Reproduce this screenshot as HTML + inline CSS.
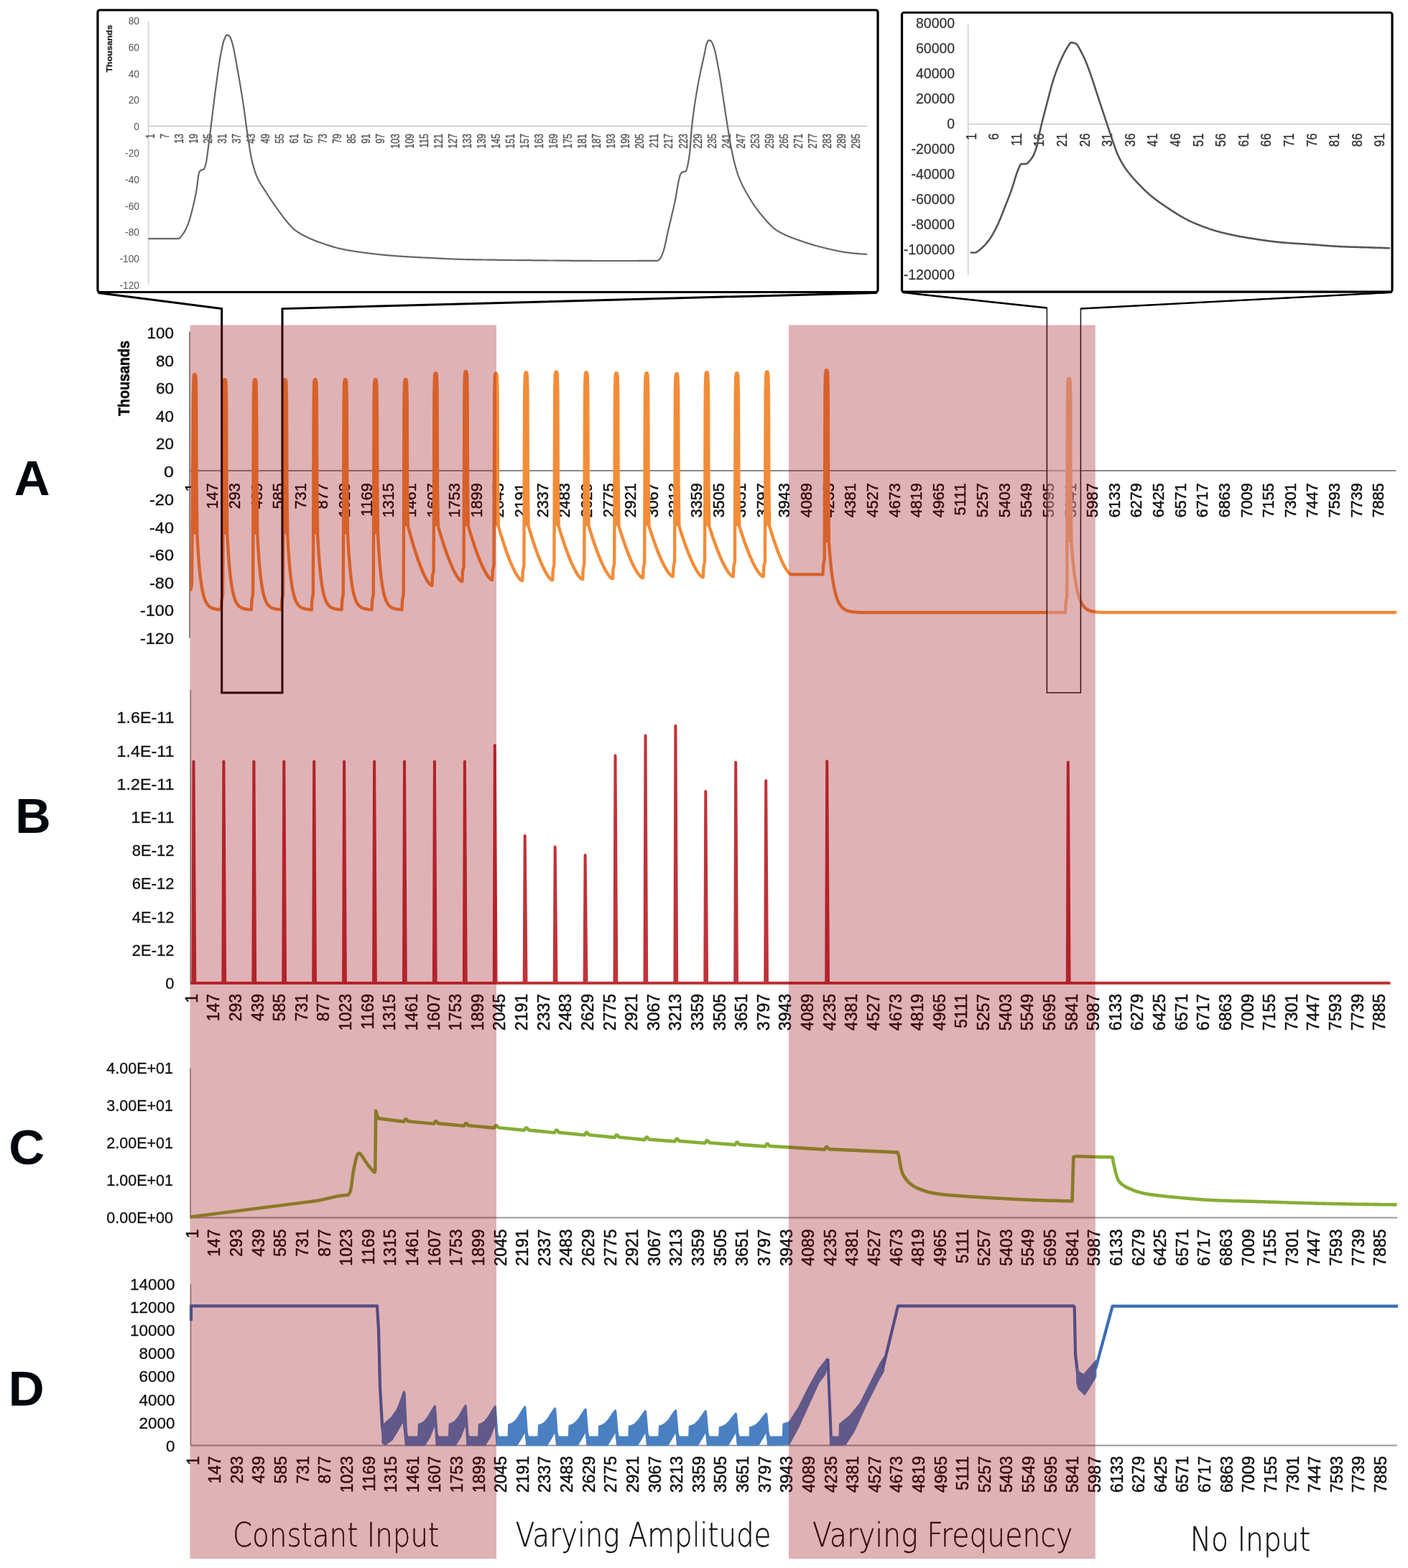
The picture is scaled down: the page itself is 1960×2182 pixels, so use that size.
<!DOCTYPE html><html><head><meta charset="utf-8"><title>Figure</title>
<style>html,body{margin:0;padding:0;background:#fff;}svg{display:block;font-family:'Liberation Sans', sans-serif;}</style></head><body>
<svg width="1960" height="2182" viewBox="0 0 1960 2182">
<rect width="1960" height="2182" fill="#fff"/>
<g id="inset-left">
<line x1="206.6" y1="30" x2="206.6" y2="396" stroke="#d6d6d6" stroke-width="1.8"/>
<line x1="206.6" y1="175.5" x2="1207" y2="175.5" stroke="#d0d0d0" stroke-width="1.8"/>
<g font-size="13.8" fill="#555" ><text x="194" y="29.1" text-anchor="end" dy="0.36em">80</text><text x="194" y="65.9" text-anchor="end" dy="0.36em">60</text><text x="194" y="102.7" text-anchor="end" dy="0.36em">40</text><text x="194" y="139.5" text-anchor="end" dy="0.36em">20</text><text x="194" y="176.3" text-anchor="end" dy="0.36em">0</text><text x="194" y="213.1" text-anchor="end" dy="0.36em">-20</text><text x="194" y="249.9" text-anchor="end" dy="0.36em">-40</text><text x="194" y="286.7" text-anchor="end" dy="0.36em">-60</text><text x="194" y="323.5" text-anchor="end" dy="0.36em">-80</text><text x="194" y="360.3" text-anchor="end" dy="0.36em">-100</text><text x="194" y="397.1" text-anchor="end" dy="0.36em">-120</text></g>
<text transform="translate(151.5,67.7) rotate(-90)" text-anchor="middle" dy="0.36em" font-size="11.7" font-weight="bold" fill="#222" stroke="#222" stroke-width="0.3" textLength="66" lengthAdjust="spacingAndGlyphs">Thousands</text>
<g font-size="12.4" fill="#555" stroke="#555" stroke-width="0.3"><text transform="translate(209,186) rotate(-90) scale(1,1.260)" text-anchor="end" dy="0.36em">1</text><text transform="translate(229.1,186) rotate(-90) scale(1,1.260)" text-anchor="end" dy="0.36em">7</text><text transform="translate(249.1,186) rotate(-90) scale(1,1.260)" text-anchor="end" dy="0.36em">13</text><text transform="translate(269.1,186) rotate(-90) scale(1,1.260)" text-anchor="end" dy="0.36em">19</text><text transform="translate(289.2,186) rotate(-90) scale(1,1.260)" text-anchor="end" dy="0.36em">25</text><text transform="translate(309.2,186) rotate(-90) scale(1,1.260)" text-anchor="end" dy="0.36em">31</text><text transform="translate(329.3,186) rotate(-90) scale(1,1.260)" text-anchor="end" dy="0.36em">37</text><text transform="translate(349.4,186) rotate(-90) scale(1,1.260)" text-anchor="end" dy="0.36em">43</text><text transform="translate(369.4,186) rotate(-90) scale(1,1.260)" text-anchor="end" dy="0.36em">49</text><text transform="translate(389.5,186) rotate(-90) scale(1,1.260)" text-anchor="end" dy="0.36em">55</text><text transform="translate(409.5,186) rotate(-90) scale(1,1.260)" text-anchor="end" dy="0.36em">61</text><text transform="translate(429.6,186) rotate(-90) scale(1,1.260)" text-anchor="end" dy="0.36em">67</text><text transform="translate(449.6,186) rotate(-90) scale(1,1.260)" text-anchor="end" dy="0.36em">73</text><text transform="translate(469.7,186) rotate(-90) scale(1,1.260)" text-anchor="end" dy="0.36em">79</text><text transform="translate(489.7,186) rotate(-90) scale(1,1.260)" text-anchor="end" dy="0.36em">85</text><text transform="translate(509.8,186) rotate(-90) scale(1,1.260)" text-anchor="end" dy="0.36em">91</text><text transform="translate(529.8,186) rotate(-90) scale(1,1.260)" text-anchor="end" dy="0.36em">97</text><text transform="translate(549.9,186) rotate(-90) scale(1,1.260)" text-anchor="end" dy="0.36em">103</text><text transform="translate(569.9,186) rotate(-90) scale(1,1.260)" text-anchor="end" dy="0.36em">109</text><text transform="translate(590,186) rotate(-90) scale(1,1.260)" text-anchor="end" dy="0.36em">115</text><text transform="translate(610,186) rotate(-90) scale(1,1.260)" text-anchor="end" dy="0.36em">121</text><text transform="translate(630,186) rotate(-90) scale(1,1.260)" text-anchor="end" dy="0.36em">127</text><text transform="translate(650.1,186) rotate(-90) scale(1,1.260)" text-anchor="end" dy="0.36em">133</text><text transform="translate(670.2,186) rotate(-90) scale(1,1.260)" text-anchor="end" dy="0.36em">139</text><text transform="translate(690.2,186) rotate(-90) scale(1,1.260)" text-anchor="end" dy="0.36em">145</text><text transform="translate(710.2,186) rotate(-90) scale(1,1.260)" text-anchor="end" dy="0.36em">151</text><text transform="translate(730.3,186) rotate(-90) scale(1,1.260)" text-anchor="end" dy="0.36em">157</text><text transform="translate(750.4,186) rotate(-90) scale(1,1.260)" text-anchor="end" dy="0.36em">163</text><text transform="translate(770.4,186) rotate(-90) scale(1,1.260)" text-anchor="end" dy="0.36em">169</text><text transform="translate(790.5,186) rotate(-90) scale(1,1.260)" text-anchor="end" dy="0.36em">175</text><text transform="translate(810.5,186) rotate(-90) scale(1,1.260)" text-anchor="end" dy="0.36em">181</text><text transform="translate(830.6,186) rotate(-90) scale(1,1.260)" text-anchor="end" dy="0.36em">187</text><text transform="translate(850.6,186) rotate(-90) scale(1,1.260)" text-anchor="end" dy="0.36em">193</text><text transform="translate(870.6,186) rotate(-90) scale(1,1.260)" text-anchor="end" dy="0.36em">199</text><text transform="translate(890.7,186) rotate(-90) scale(1,1.260)" text-anchor="end" dy="0.36em">205</text><text transform="translate(910.8,186) rotate(-90) scale(1,1.260)" text-anchor="end" dy="0.36em">211</text><text transform="translate(930.8,186) rotate(-90) scale(1,1.260)" text-anchor="end" dy="0.36em">217</text><text transform="translate(950.9,186) rotate(-90) scale(1,1.260)" text-anchor="end" dy="0.36em">223</text><text transform="translate(970.9,186) rotate(-90) scale(1,1.260)" text-anchor="end" dy="0.36em">229</text><text transform="translate(991,186) rotate(-90) scale(1,1.260)" text-anchor="end" dy="0.36em">235</text><text transform="translate(1011,186) rotate(-90) scale(1,1.260)" text-anchor="end" dy="0.36em">241</text><text transform="translate(1031.1,186) rotate(-90) scale(1,1.260)" text-anchor="end" dy="0.36em">247</text><text transform="translate(1051.1,186) rotate(-90) scale(1,1.260)" text-anchor="end" dy="0.36em">253</text><text transform="translate(1071.2,186) rotate(-90) scale(1,1.260)" text-anchor="end" dy="0.36em">259</text><text transform="translate(1091.2,186) rotate(-90) scale(1,1.260)" text-anchor="end" dy="0.36em">265</text><text transform="translate(1111.2,186) rotate(-90) scale(1,1.260)" text-anchor="end" dy="0.36em">271</text><text transform="translate(1131.3,186) rotate(-90) scale(1,1.260)" text-anchor="end" dy="0.36em">277</text><text transform="translate(1151.3,186) rotate(-90) scale(1,1.260)" text-anchor="end" dy="0.36em">283</text><text transform="translate(1171.4,186) rotate(-90) scale(1,1.260)" text-anchor="end" dy="0.36em">289</text><text transform="translate(1191.5,186) rotate(-90) scale(1,1.260)" text-anchor="end" dy="0.36em">295</text></g>
<polyline points="206.6,332.1 207.4,332.1 208.2,332.1 209,332.1 209.8,332.1 210.6,332.1 211.4,332.1 212.2,332.1 213,332.1 213.8,332.1 214.6,332.1 215.4,332.1 216.2,332.1 217,332.1 217.8,332.1 218.6,332.1 219.4,332.1 220.2,332.1 221,332.1 221.8,332.1 222.6,332.1 223.4,332.1 224.2,332.1 225,332.1 225.8,332.1 226.6,332.1 227.4,332.1 228.2,332.1 229,332.1 229.8,332.1 230.6,332.1 231.4,332.1 232.2,332.1 233,332.1 233.8,332.1 234.6,332.1 235.4,332.1 236.2,332.1 237,332.1 237.8,332.1 238.6,332.1 239.4,332.1 240.2,332.1 241,332.1 241.8,332.1 242.6,332.1 243.4,332.1 244.2,332.1 245,332.1 245.8,332.1 246.6,332.1 247.4,332.1 248.2,332.1 249,331.8 249.8,331.4 250.6,330.7 251.4,329.9 252.2,328.9 253,327.9 253.8,326.8 254.6,325.7 255.4,324.6 256.2,323.4 257,322.1 257.8,320.7 258.6,319.1 259.4,317.4 260.2,315.6 261,313.7 261.8,311.8 262.6,309.6 263.4,307.2 264.2,304.5 265,301.7 265.8,298.8 266.6,295.8 267.4,292.7 268.2,289.5 269,286.2 269.8,282.8 270.6,279.2 271.4,275.5 272.2,271.6 273,267.5 273.8,263 274.6,257.1 275.4,250.6 276.2,244.6 277,240.3 277.8,238.6 278.6,237.8 279.4,237.2 280.2,236.7 281,236.4 281.8,236.3 282.6,236.1 283.4,235.8 284.2,235 285,233.1 285.8,230.5 286.6,227.5 287.4,223.7 288.2,218.6 289,212.6 289.8,206.3 290.6,200.1 291.4,194.1 292.2,187.7 293,181.2 293.8,174.6 294.6,168.1 295.4,161.7 296.2,155.2 297,148.8 297.8,142.3 298.6,135.9 299.4,129.6 300.2,123.5 301,117.6 301.8,111.8 302.6,106.1 303.4,100.4 304.2,94.8 305,89.5 305.8,84.3 306.6,79.5 307.4,75 308.2,71 309,67.1 309.8,63.4 310.6,60 311.4,57.1 312.2,54.7 313,52.9 313.8,51.3 314.6,49.8 315.4,48.9 316.2,48.6 317,48.8 317.8,49.2 318.6,49.7 319.4,50.4 320.2,51.4 321,53 321.8,55.1 322.6,57.4 323.4,60 324.2,63 325,66.5 325.8,70.3 326.6,74.4 327.4,78.7 328.2,83.1 329,87.7 329.8,92.2 330.6,96.7 331.4,101.1 332.2,105.5 333,110 333.8,114.7 334.6,119.4 335.4,124.2 336.2,129 337,134 337.8,139.1 338.6,144.3 339.4,149.7 340.2,155.3 341,161.3 341.8,167.5 342.6,173.6 343.4,179.5 344.2,185 345,190.3 345.8,195.5 346.6,200.7 347.4,205.7 348.2,210.5 349,215 349.8,219.2 350.6,222.9 351.4,226.2 352.2,229.4 353,232.3 353.8,235.1 354.6,237.7 355.4,240.1 356.2,242.4 357,244.4 357.8,246.3 358.6,248 359.4,249.7 360.2,251.2 361,252.7 361.8,254.1 362.6,255.5 363.4,256.8 364.2,258 365,259.2 365.8,260.5 366.6,261.7 367.4,262.9 368.2,264.1 369,265.4 369.8,266.7 370.6,268 371.4,269.2 372.2,270.5 373,271.7 373.8,273 374.6,274.2 375.4,275.4 376.2,276.6 377,277.8 377.8,279 378.6,280.2 379.4,281.4 380.2,282.6 381,283.7 381.8,284.9 382.6,286 383.4,287.2 384.2,288.3 385,289.4 385.8,290.5 386.6,291.6 387.4,292.7 388.2,293.8 389,294.9 389.8,296 390.6,297.1 391.4,298.2 392.2,299.3 393,300.4 393.8,301.4 394.6,302.5 395.4,303.5 396.2,304.5 397,305.5 397.8,306.5 398.6,307.5 399.4,308.5 400.2,309.4 401,310.4 401.8,311.3 402.6,312.2 403.4,313.1 404.2,314 405,314.8 405.8,315.7 406.6,316.5 407.4,317.3 408.2,318.1 409,318.8 409.8,319.5 410.6,320.1 411.4,320.7 412.2,321.3 413,321.9 413.8,322.4 414.6,323 415.4,323.5 416.2,324 417,324.5 417.8,325 418.6,325.4 419.4,325.9 420.2,326.3 421,326.8 421.8,327.2 422.6,327.6 423.4,328.1 424.2,328.5 425,328.9 425.8,329.3 426.6,329.7 427.4,330 428.2,330.4 429,330.8 429.8,331.2 430.6,331.5 431.4,331.9 432.2,332.2 433,332.6 433.8,332.9 434.6,333.3 435.4,333.6 436.2,333.9 437,334.2 437.8,334.6 438.6,334.9 439.4,335.2 440.2,335.5 441,335.8 441.8,336.1 442.6,336.4 443.4,336.7 444.2,337 445,337.3 445.8,337.5 446.6,337.8 447.4,338.1 448.2,338.4 449,338.7 449.8,338.9 450.6,339.2 451.4,339.5 452.2,339.7 453,340 453.8,340.3 454.6,340.6 455.4,340.8 456.2,341.1 457,341.4 457.8,341.6 458.6,341.9 459.4,342.1 460.2,342.4 461,342.6 461.8,342.9 462.6,343.1 463.4,343.4 464.2,343.6 465,343.9 465.8,344.1 466.6,344.3 467.4,344.5 468.2,344.7 469,345 469.8,345.2 470.6,345.4 471.4,345.6 472.2,345.8 473,345.9 473.8,346.1 474.6,346.3 475.4,346.5 476.2,346.6 477,346.8 477.8,346.9 478.6,347.1 479.4,347.3 480.2,347.4 481,347.6 481.8,347.7 482.6,347.9 483.4,348 484.2,348.2 485,348.3 485.8,348.4 486.6,348.6 487.4,348.7 488.2,348.9 489,349 489.8,349.1 490.6,349.2 491.4,349.4 492.2,349.5 493,349.6 493.8,349.8 494.6,349.9 495.4,350 496.2,350.1 497,350.2 497.8,350.4 498.6,350.5 499.4,350.6 500.2,350.7 501,350.8 501.8,350.9 502.6,351 503.4,351.1 504.2,351.2 505,351.4 505.8,351.5 506.6,351.6 507.4,351.7 508.2,351.8 509,351.9 509.8,352 510.6,352.1 511.4,352.2 512.2,352.3 513,352.4 513.8,352.5 514.6,352.6 515.4,352.7 516.2,352.8 517,352.9 517.8,353 518.6,353.1 519.4,353.2 520.2,353.2 521,353.3 521.8,353.4 522.6,353.5 523.4,353.6 524.2,353.7 525,353.8 525.8,353.9 526.6,354 527.4,354.1 528.2,354.1 529,354.2 529.8,354.3 530.6,354.4 531.4,354.5 532.2,354.6 533,354.6 533.8,354.7 534.6,354.8 535.4,354.9 536.2,355 537,355 537.8,355.1 538.6,355.2 539.4,355.2 540.2,355.3 541,355.4 541.8,355.5 542.6,355.5 543.4,355.6 544.2,355.7 545,355.7 545.8,355.8 546.6,355.9 547.4,355.9 548.2,356 549,356 549.8,356.1 550.6,356.2 551.4,356.2 552.2,356.3 553,356.3 553.8,356.4 554.6,356.5 555.4,356.5 556.2,356.6 557,356.6 557.8,356.7 558.6,356.7 559.4,356.8 560.2,356.8 561,356.9 561.8,356.9 562.6,357 563.4,357 564.2,357.1 565,357.1 565.8,357.2 566.6,357.2 567.4,357.3 568.2,357.3 569,357.4 569.8,357.4 570.6,357.5 571.4,357.5 572.2,357.6 573,357.6 573.8,357.7 574.6,357.7 575.4,357.7 576.2,357.8 577,357.8 577.8,357.9 578.6,357.9 579.4,358 580.2,358 581,358 581.8,358.1 582.6,358.1 583.4,358.2 584.2,358.2 585,358.3 585.8,358.3 586.6,358.3 587.4,358.4 588.2,358.4 589,358.5 589.8,358.5 590.6,358.5 591.4,358.6 592.2,358.6 593,358.7 593.8,358.7 594.6,358.7 595.4,358.8 596.2,358.8 597,358.9 597.8,358.9 598.6,358.9 599.4,359 600.2,359 601,359 601.8,359.1 602.6,359.1 603.4,359.2 604.2,359.2 605,359.2 605.8,359.3 606.6,359.3 607.4,359.4 608.2,359.4 609,359.4 609.8,359.5 610.6,359.5 611.4,359.6 612.2,359.6 613,359.6 613.8,359.7 614.6,359.7 615.4,359.8 616.2,359.8 617,359.8 617.8,359.9 618.6,359.9 619.4,360 620.2,360 621,360 621.8,360.1 622.6,360.1 623.4,360.2 624.2,360.2 625,360.2 625.8,360.3 626.6,360.3 627.4,360.3 628.2,360.4 629,360.4 629.8,360.4 630.6,360.5 631.4,360.5 632.2,360.5 633,360.6 633.8,360.6 634.6,360.6 635.4,360.7 636.2,360.7 637,360.7 637.8,360.7 638.6,360.8 639.4,360.8 640.2,360.8 641,360.8 641.8,360.9 642.6,360.9 643.4,360.9 644.2,360.9 645,360.9 645.8,361 646.6,361 647.4,361 648.2,361 649,361 649.8,361.1 650.6,361.1 651.4,361.1 652.2,361.1 653,361.1 653.8,361.1 654.6,361.1 655.4,361.2 656.2,361.2 657,361.2 657.8,361.2 658.6,361.2 659.4,361.2 660.2,361.3 661,361.3 661.8,361.3 662.6,361.3 663.4,361.3 664.2,361.3 665,361.3 665.8,361.4 666.6,361.4 667.4,361.4 668.2,361.4 669,361.4 669.8,361.4 670.6,361.4 671.4,361.4 672.2,361.5 673,361.5 673.8,361.5 674.6,361.5 675.4,361.5 676.2,361.5 677,361.5 677.8,361.5 678.6,361.6 679.4,361.6 680.2,361.6 681,361.6 681.8,361.6 682.6,361.6 683.4,361.6 684.2,361.6 685,361.6 685.8,361.7 686.6,361.7 687.4,361.7 688.2,361.7 689,361.7 689.8,361.7 690.6,361.7 691.4,361.7 692.2,361.7 693,361.8 693.8,361.8 694.6,361.8 695.4,361.8 696.2,361.8 697,361.8 697.8,361.8 698.6,361.8 699.4,361.8 700.2,361.8 701,361.9 701.8,361.9 702.6,361.9 703.4,361.9 704.2,361.9 705,361.9 705.8,361.9 706.6,361.9 707.4,361.9 708.2,361.9 709,361.9 709.8,361.9 710.6,362 711.4,362 712.2,362 713,362 713.8,362 714.6,362 715.4,362 716.2,362 717,362 717.8,362 718.6,362 719.4,362 720.2,362.1 721,362.1 721.8,362.1 722.6,362.1 723.4,362.1 724.2,362.1 725,362.1 725.8,362.1 726.6,362.1 727.4,362.1 728.2,362.1 729,362.1 729.8,362.1 730.6,362.2 731.4,362.2 732.2,362.2 733,362.2 733.8,362.2 734.6,362.2 735.4,362.2 736.2,362.2 737,362.2 737.8,362.2 738.6,362.2 739.4,362.2 740.2,362.2 741,362.3 741.8,362.3 742.6,362.3 743.4,362.3 744.2,362.3 745,362.3 745.8,362.3 746.6,362.3 747.4,362.3 748.2,362.3 749,362.3 749.8,362.3 750.6,362.3 751.4,362.3 752.2,362.4 753,362.4 753.8,362.4 754.6,362.4 755.4,362.4 756.2,362.4 757,362.4 757.8,362.4 758.6,362.4 759.4,362.4 760.2,362.4 761,362.4 761.8,362.4 762.6,362.5 763.4,362.5 764.2,362.5 765,362.5 765.8,362.5 766.6,362.5 767.4,362.5 768.2,362.5 769,362.5 769.8,362.5 770.6,362.5 771.4,362.5 772.2,362.5 773,362.6 773.8,362.6 774.6,362.6 775.4,362.6 776.2,362.6 777,362.6 777.8,362.6 778.6,362.6 779.4,362.6 780.2,362.6 781,362.6 781.8,362.6 782.6,362.6 783.4,362.7 784.2,362.7 785,362.7 785.8,362.7 786.6,362.7 787.4,362.7 788.2,362.7 789,362.7 789.8,362.7 790.6,362.7 791.4,362.7 792.2,362.7 793,362.7 793.8,362.7 794.6,362.8 795.4,362.8 796.2,362.8 797,362.8 797.8,362.8 798.6,362.8 799.4,362.8 800.2,362.8 801,362.8 801.8,362.8 802.6,362.8 803.4,362.8 804.2,362.8 805,362.8 805.8,362.8 806.6,362.8 807.4,362.9 808.2,362.9 809,362.9 809.8,362.9 810.6,362.9 811.4,362.9 812.2,362.9 813,362.9 813.8,362.9 814.6,362.9 815.4,362.9 816.2,362.9 817,362.9 817.8,362.9 818.6,362.9 819.4,362.9 820.2,362.9 821,362.9 821.8,362.9 822.6,362.9 823.4,362.9 824.2,363 825,363 825.8,363 826.6,363 827.4,363 828.2,363 829,363 829.8,363 830.6,363 831.4,363 832.2,363 833,363 833.8,363 834.6,363 835.4,363 836.2,363 837,363 837.8,363 838.6,363 839.4,363 840.2,363 841,363 841.8,363 842.6,363 843.4,363 844.2,363 845,363 845.8,363 846.6,363 847.4,363 848.2,363 849,363 849.8,363 850.6,363 851.4,363 852.2,363 853,363 853.8,363 854.6,363 855.4,363 856.2,363 857,363 857.8,363 858.6,363 859.4,363 860.2,363 861,363 861.8,363 862.6,363 863.4,363 864.2,363 865,363 865.8,363 866.6,363 867.4,363 868.2,363 869,363 869.8,363 870.6,363 871.4,363 872.2,363 873,363 873.8,363 874.6,363 875.4,363 876.2,363 877,363 877.8,363 878.6,363 879.4,363 880.2,363 881,363 881.8,363 882.6,363 883.4,363 884.2,363 885,363 885.8,363 886.6,363 887.4,363 888.2,362.9 889,362.9 889.8,362.9 890.6,362.9 891.4,362.9 892.2,362.9 893,362.9 893.8,362.9 894.6,362.9 895.4,362.9 896.2,362.9 897,362.9 897.8,362.9 898.6,362.9 899.4,362.9 900.2,362.9 901,362.9 901.8,362.9 902.6,362.9 903.4,362.9 904.2,362.9 905,362.9 905.8,362.9 906.6,362.9 907.4,362.9 908.2,362.8 909,362.8 909.8,362.8 910.6,362.8 911.4,362.8 912.2,362.8 913,362.8 913.8,362.8 914.6,362.8 915.4,362.7 916.2,362.3 917,361.8 917.8,361.2 918.6,360.4 919.4,359.2 920.2,357.8 921,356 921.8,354.1 922.6,352 923.4,349.8 924.2,347.3 925,344.4 925.8,341 926.6,337.4 927.4,333.6 928.2,329.7 929,325.9 929.8,322.2 930.6,318.8 931.4,315.4 932.2,312 933,308.7 933.8,305.3 934.6,302 935.4,298.6 936.2,295.2 937,291.8 937.8,288.4 938.6,284.8 939.4,281.2 940.2,277 941,272.6 941.8,268 942.6,263.3 943.4,258.8 944.2,254.4 945,250.5 945.8,247.1 946.6,244.3 947.4,242.3 948.2,241.1 949,240.2 949.8,239.6 950.6,239.4 951.4,239.2 952.2,239.1 953,238.9 953.8,238.7 954.6,238.3 955.4,236.9 956.2,234.5 957,231.3 957.8,227.4 958.6,222.9 959.4,218 960.2,212.2 961,202.9 961.8,191.7 962.6,181.1 963.4,173.1 964.2,166.3 965,160 965.8,154 966.6,148.3 967.4,143 968.2,137.9 969,133.1 969.8,128.4 970.6,123.8 971.4,119.3 972.2,114.8 973,110.6 973.8,106.5 974.6,102.5 975.4,98.7 976.2,95 977,91.3 977.8,87.7 978.6,84.1 979.4,80.6 980.2,77 981,73.3 981.8,69.2 982.6,65.1 983.4,61.7 984.2,59.6 985,58 985.8,56.7 986.6,56 987.4,56.1 988.2,56.3 989,56.8 989.8,57.3 990.6,58.2 991.4,59.6 992.2,61.4 993,63.6 993.8,65.9 994.6,68.5 995.4,71.6 996.2,75 997,78.8 997.8,82.8 998.6,87 999.4,91.3 1000.2,95.6 1001,100 1001.8,104.5 1002.6,109.3 1003.4,114.3 1004.2,119.4 1005,124.7 1005.8,130 1006.6,135.4 1007.4,140.8 1008.2,146.2 1009,151.5 1009.8,156.8 1010.6,162 1011.4,167 1012.2,172 1013,177.1 1013.8,182.2 1014.6,187.3 1015.4,192.2 1016.2,197 1017,201.5 1017.8,205.6 1018.6,209.5 1019.4,213.2 1020.2,216.9 1021,220.5 1021.8,223.9 1022.6,227.2 1023.4,230.3 1024.2,233.3 1025,236.1 1025.8,238.8 1026.6,241.2 1027.4,243.5 1028.2,245.7 1029,247.7 1029.8,249.7 1030.6,251.6 1031.4,253.4 1032.2,255.1 1033,256.8 1033.8,258.4 1034.6,260 1035.4,261.6 1036.2,263.1 1037,264.5 1037.8,266 1038.6,267.4 1039.4,268.9 1040.2,270.3 1041,271.7 1041.8,273 1042.6,274.4 1043.4,275.7 1044.2,277 1045,278.3 1045.8,279.6 1046.6,280.8 1047.4,282 1048.2,283.3 1049,284.5 1049.8,285.6 1050.6,286.8 1051.4,287.9 1052.2,289.1 1053,290.2 1053.8,291.3 1054.6,292.3 1055.4,293.4 1056.2,294.4 1057,295.4 1057.8,296.5 1058.6,297.4 1059.4,298.4 1060.2,299.4 1061,300.3 1061.8,301.3 1062.6,302.2 1063.4,303.2 1064.2,304.1 1065,305.1 1065.8,306 1066.6,306.9 1067.4,307.8 1068.2,308.7 1069,309.6 1069.8,310.4 1070.6,311.3 1071.4,312.1 1072.2,312.9 1073,313.7 1073.8,314.5 1074.6,315.2 1075.4,316 1076.2,316.7 1077,317.4 1077.8,318 1078.6,318.7 1079.4,319.3 1080.2,319.8 1081,320.4 1081.8,320.9 1082.6,321.4 1083.4,321.9 1084.2,322.3 1085,322.8 1085.8,323.3 1086.6,323.7 1087.4,324.1 1088.2,324.5 1089,325 1089.8,325.4 1090.6,325.8 1091.4,326.1 1092.2,326.5 1093,326.9 1093.8,327.3 1094.6,327.6 1095.4,328 1096.2,328.3 1097,328.6 1097.8,329 1098.6,329.3 1099.4,329.6 1100.2,329.9 1101,330.3 1101.8,330.6 1102.6,330.9 1103.4,331.2 1104.2,331.5 1105,331.8 1105.8,332 1106.6,332.3 1107.4,332.6 1108.2,332.9 1109,333.2 1109.8,333.5 1110.6,333.8 1111.4,334 1112.2,334.3 1113,334.6 1113.8,334.9 1114.6,335.2 1115.4,335.4 1116.2,335.7 1117,336 1117.8,336.3 1118.6,336.6 1119.4,336.8 1120.2,337.1 1121,337.4 1121.8,337.6 1122.6,337.9 1123.4,338.1 1124.2,338.4 1125,338.7 1125.8,338.9 1126.6,339.2 1127.4,339.4 1128.2,339.7 1129,339.9 1129.8,340.1 1130.6,340.4 1131.4,340.6 1132.2,340.9 1133,341.1 1133.8,341.3 1134.6,341.6 1135.4,341.8 1136.2,342 1137,342.2 1137.8,342.5 1138.6,342.7 1139.4,342.9 1140.2,343.1 1141,343.3 1141.8,343.5 1142.6,343.7 1143.4,343.9 1144.2,344.1 1145,344.3 1145.8,344.5 1146.6,344.7 1147.4,344.9 1148.2,345.1 1149,345.3 1149.8,345.5 1150.6,345.7 1151.4,345.9 1152.2,346.1 1153,346.3 1153.8,346.5 1154.6,346.6 1155.4,346.8 1156.2,347 1157,347.2 1157.8,347.4 1158.6,347.6 1159.4,347.8 1160.2,347.9 1161,348.1 1161.8,348.3 1162.6,348.5 1163.4,348.6 1164.2,348.8 1165,349 1165.8,349.1 1166.6,349.3 1167.4,349.5 1168.2,349.6 1169,349.8 1169.8,349.9 1170.6,350.1 1171.4,350.2 1172.2,350.4 1173,350.5 1173.8,350.6 1174.6,350.8 1175.4,350.9 1176.2,351 1177,351.1 1177.8,351.2 1178.6,351.3 1179.4,351.4 1180.2,351.5 1181,351.6 1181.8,351.7 1182.6,351.8 1183.4,351.9 1184.2,352 1185,352.1 1185.8,352.2 1186.6,352.3 1187.4,352.3 1188.2,352.4 1189,352.5 1189.8,352.6 1190.6,352.7 1191.4,352.8 1192.2,352.8 1193,352.9 1193.8,353 1194.6,353 1195.4,353.1 1196.2,353.2 1197,353.2 1197.8,353.3 1198.6,353.4 1199.4,353.4 1200.2,353.5 1201,353.5 1201.8,353.6 1202.6,353.6 1203.4,353.7 1204.2,353.7 1205,353.7 1205.8,353.8 1206.6,353.8 1207,353.8" fill="none" stroke="#666" stroke-width="2.2" stroke-linejoin="round"/>
<rect x="136" y="14" width="1086" height="392.5" rx="3" fill="none" stroke="#000" stroke-width="3.2"/>
</g>
<g id="inset-right">
<line x1="1347.7" y1="33.7" x2="1347.7" y2="383" stroke="#d6d6d6" stroke-width="1.8"/>
<line x1="1347.7" y1="172.9" x2="1935" y2="172.9" stroke="#d0d0d0" stroke-width="1.8"/>
<g font-size="19.4" fill="#333" stroke="#333" stroke-width="0.25"><text x="1329" y="32.1" text-anchor="end" dy="0.36em">80000</text><text x="1329" y="67.1" text-anchor="end" dy="0.36em">60000</text><text x="1329" y="102.1" text-anchor="end" dy="0.36em">40000</text><text x="1329" y="137.1" text-anchor="end" dy="0.36em">20000</text><text x="1329" y="172.1" text-anchor="end" dy="0.36em">0</text><text x="1329" y="207.1" text-anchor="end" dy="0.36em">-20000</text><text x="1329" y="242.1" text-anchor="end" dy="0.36em">-40000</text><text x="1329" y="277.1" text-anchor="end" dy="0.36em">-60000</text><text x="1329" y="312.1" text-anchor="end" dy="0.36em">-80000</text><text x="1329" y="347.1" text-anchor="end" dy="0.36em">-100000</text><text x="1329" y="382.1" text-anchor="end" dy="0.36em">-120000</text></g>
<g font-size="16.8" fill="#333" stroke="#333" stroke-width="0.3"><text transform="translate(1351.7,185.5) rotate(-90) scale(1,1.150)" text-anchor="end" dy="0.36em">1</text><text transform="translate(1383.3,185.5) rotate(-90) scale(1,1.150)" text-anchor="end" dy="0.36em">6</text><text transform="translate(1414.9,185.5) rotate(-90) scale(1,1.150)" text-anchor="end" dy="0.36em">11</text><text transform="translate(1446.5,185.5) rotate(-90) scale(1,1.150)" text-anchor="end" dy="0.36em">16</text><text transform="translate(1478.1,185.5) rotate(-90) scale(1,1.150)" text-anchor="end" dy="0.36em">21</text><text transform="translate(1509.7,185.5) rotate(-90) scale(1,1.150)" text-anchor="end" dy="0.36em">26</text><text transform="translate(1541.3,185.5) rotate(-90) scale(1,1.150)" text-anchor="end" dy="0.36em">31</text><text transform="translate(1572.9,185.5) rotate(-90) scale(1,1.150)" text-anchor="end" dy="0.36em">36</text><text transform="translate(1604.5,185.5) rotate(-90) scale(1,1.150)" text-anchor="end" dy="0.36em">41</text><text transform="translate(1636.1,185.5) rotate(-90) scale(1,1.150)" text-anchor="end" dy="0.36em">46</text><text transform="translate(1667.7,185.5) rotate(-90) scale(1,1.150)" text-anchor="end" dy="0.36em">51</text><text transform="translate(1699.3,185.5) rotate(-90) scale(1,1.150)" text-anchor="end" dy="0.36em">56</text><text transform="translate(1730.9,185.5) rotate(-90) scale(1,1.150)" text-anchor="end" dy="0.36em">61</text><text transform="translate(1762.5,185.5) rotate(-90) scale(1,1.150)" text-anchor="end" dy="0.36em">66</text><text transform="translate(1794.1,185.5) rotate(-90) scale(1,1.150)" text-anchor="end" dy="0.36em">71</text><text transform="translate(1825.7,185.5) rotate(-90) scale(1,1.150)" text-anchor="end" dy="0.36em">76</text><text transform="translate(1857.3,185.5) rotate(-90) scale(1,1.150)" text-anchor="end" dy="0.36em">81</text><text transform="translate(1888.9,185.5) rotate(-90) scale(1,1.150)" text-anchor="end" dy="0.36em">86</text><text transform="translate(1920.5,185.5) rotate(-90) scale(1,1.150)" text-anchor="end" dy="0.36em">91</text></g>
<polyline points="1350.7,351.5 1351.5,351.5 1352.3,351.5 1353.1,351.5 1353.9,351.5 1354.7,351.5 1355.5,351.5 1356.3,351.5 1357.1,351.5 1357.9,351.5 1358.7,351.2 1359.5,350.8 1360.3,350.3 1361.1,349.7 1361.9,349.1 1362.7,348.5 1363.5,347.9 1364.3,347.3 1365.1,346.6 1365.9,345.9 1366.7,345.2 1367.5,344.5 1368.3,343.7 1369.1,342.9 1369.9,342.1 1370.7,341.3 1371.5,340.4 1372.3,339.5 1373.1,338.6 1373.9,337.6 1374.7,336.6 1375.5,335.6 1376.3,334.6 1377.1,333.5 1377.9,332.4 1378.7,331.2 1379.5,330 1380.3,328.8 1381.1,327.4 1381.9,326.1 1382.7,324.7 1383.5,323.2 1384.3,321.7 1385.1,320.2 1385.9,318.6 1386.7,317.1 1387.5,315.4 1388.3,313.8 1389.1,312.1 1389.9,310.3 1390.7,308.5 1391.5,306.6 1392.3,304.7 1393.1,302.7 1393.9,300.7 1394.7,298.7 1395.5,296.6 1396.3,294.6 1397.1,292.6 1397.9,290.6 1398.7,288.5 1399.5,286.5 1400.3,284.5 1401.1,282.5 1401.9,280.5 1402.7,278.4 1403.5,276.4 1404.3,274.3 1405.1,272.2 1405.9,270.1 1406.7,267.9 1407.5,265.7 1408.3,263.5 1409.1,261.1 1409.9,258.6 1410.7,256.1 1411.5,253.4 1412.3,250.8 1413.1,248.2 1413.9,245.6 1414.7,243.2 1415.5,240.8 1416.3,238.6 1417.1,236.6 1417.9,234.8 1418.7,232.9 1419.5,231.1 1420.3,229.4 1421.1,228.4 1421.9,228.1 1422.7,228.1 1423.5,228.1 1424.3,228.1 1425.1,228.1 1425.9,228.1 1426.7,228.1 1427.5,228.1 1428.3,228 1429.1,227.8 1429.9,227.3 1430.7,226.7 1431.5,226 1432.3,225.1 1433.1,224.2 1433.9,223.2 1434.7,222.2 1435.5,221.2 1436.3,220.1 1437.1,218.8 1437.9,217.4 1438.7,215.9 1439.5,214.1 1440.3,212.2 1441.1,210.2 1441.9,208 1442.7,205.6 1443.5,203.1 1444.3,199.8 1445.1,195.8 1445.9,191.4 1446.7,187.1 1447.5,183.3 1448.3,179.7 1449.1,176.3 1449.9,173 1450.7,169.7 1451.5,166.5 1452.3,163.3 1453.1,160.2 1453.9,157.1 1454.7,154.1 1455.5,151 1456.3,148 1457.1,145 1457.9,141.9 1458.7,138.8 1459.5,135.8 1460.3,132.7 1461.1,129.6 1461.9,126.6 1462.7,123.7 1463.5,120.7 1464.3,117.9 1465.1,115.1 1465.9,112.5 1466.7,109.9 1467.5,107.5 1468.3,105.1 1469.1,102.8 1469.9,100.6 1470.7,98.4 1471.5,96.3 1472.3,94.2 1473.1,92.1 1473.9,90.2 1474.7,88.2 1475.5,86.4 1476.3,84.6 1477.1,82.8 1477.9,81 1478.7,79.3 1479.5,77.7 1480.3,76 1481.1,74.4 1481.9,72.9 1482.7,71.4 1483.5,69.9 1484.3,68.5 1485.1,67.1 1485.9,65.8 1486.7,64.6 1487.5,63.3 1488.3,62 1489.1,60.7 1489.9,59.7 1490.7,59.3 1491.5,59.3 1492.3,59.4 1493.1,59.5 1493.9,59.6 1494.7,59.8 1495.5,60 1496.3,60.2 1497.1,60.4 1497.9,60.9 1498.7,61.6 1499.5,62.5 1500.3,63.6 1501.1,64.9 1501.9,66.2 1502.7,67.6 1503.5,69.2 1504.3,70.7 1505.1,72.3 1505.9,73.8 1506.7,75.3 1507.5,76.8 1508.3,78.5 1509.1,80.2 1509.9,82 1510.7,83.9 1511.5,85.8 1512.3,87.8 1513.1,89.8 1513.9,91.9 1514.7,94 1515.5,96.1 1516.3,98.3 1517.1,100.4 1517.9,102.6 1518.7,104.9 1519.5,107.3 1520.3,109.7 1521.1,112.1 1521.9,114.6 1522.7,117 1523.5,119.5 1524.3,122 1525.1,124.4 1525.9,126.9 1526.7,129.3 1527.5,131.7 1528.3,134.1 1529.1,136.5 1529.9,139 1530.7,141.4 1531.5,143.8 1532.3,146.2 1533.1,148.6 1533.9,151.1 1534.7,153.5 1535.5,155.9 1536.3,158.3 1537.1,160.7 1537.9,163.1 1538.7,165.6 1539.5,168 1540.3,170.4 1541.1,172.8 1541.9,175.3 1542.7,177.7 1543.5,180.1 1544.3,182.4 1545.1,184.8 1545.9,187.1 1546.7,189.4 1547.5,191.8 1548.3,194.2 1549.1,196.6 1549.9,199 1550.7,201.3 1551.5,203.7 1552.3,205.9 1553.1,208.1 1553.9,210.3 1554.7,212.3 1555.5,214.2 1556.3,216 1557.1,217.7 1557.9,219.3 1558.7,220.9 1559.5,222.4 1560.3,223.9 1561.1,225.3 1561.9,226.7 1562.7,228.1 1563.5,229.4 1564.3,230.7 1565.1,231.9 1565.9,233.2 1566.7,234.3 1567.5,235.5 1568.3,236.6 1569.1,237.7 1569.9,238.7 1570.7,239.8 1571.5,240.8 1572.3,241.8 1573.1,242.8 1573.9,243.7 1574.7,244.7 1575.5,245.6 1576.3,246.6 1577.1,247.5 1577.9,248.4 1578.7,249.3 1579.5,250.2 1580.3,251.1 1581.1,252 1581.9,252.8 1582.7,253.7 1583.5,254.5 1584.3,255.4 1585.1,256.2 1585.9,257 1586.7,257.8 1587.5,258.6 1588.3,259.5 1589.1,260.3 1589.9,261.1 1590.7,261.9 1591.5,262.7 1592.3,263.5 1593.1,264.3 1593.9,265 1594.7,265.8 1595.5,266.6 1596.3,267.3 1597.1,268 1597.9,268.8 1598.7,269.5 1599.5,270.2 1600.3,270.9 1601.1,271.5 1601.9,272.2 1602.7,272.9 1603.5,273.5 1604.3,274.2 1605.1,274.8 1605.9,275.4 1606.7,276.1 1607.5,276.7 1608.3,277.3 1609.1,277.9 1609.9,278.5 1610.7,279.1 1611.5,279.7 1612.3,280.3 1613.1,280.8 1613.9,281.4 1614.7,282 1615.5,282.5 1616.3,283.1 1617.1,283.6 1617.9,284.2 1618.7,284.7 1619.5,285.3 1620.3,285.8 1621.1,286.4 1621.9,286.9 1622.7,287.4 1623.5,288 1624.3,288.5 1625.1,289.1 1625.9,289.6 1626.7,290.1 1627.5,290.7 1628.3,291.2 1629.1,291.7 1629.9,292.3 1630.7,292.8 1631.5,293.3 1632.3,293.8 1633.1,294.3 1633.9,294.9 1634.7,295.4 1635.5,295.9 1636.3,296.4 1637.1,296.9 1637.9,297.4 1638.7,297.9 1639.5,298.4 1640.3,298.9 1641.1,299.4 1641.9,299.8 1642.7,300.3 1643.5,300.8 1644.3,301.2 1645.1,301.7 1645.9,302.2 1646.7,302.6 1647.5,303.1 1648.3,303.5 1649.1,304 1649.9,304.4 1650.7,304.8 1651.5,305.2 1652.3,305.6 1653.1,306.1 1653.9,306.5 1654.7,306.9 1655.5,307.2 1656.3,307.6 1657.1,308 1657.9,308.4 1658.7,308.7 1659.5,309.1 1660.3,309.4 1661.1,309.8 1661.9,310.1 1662.7,310.5 1663.5,310.8 1664.3,311.2 1665.1,311.5 1665.9,311.8 1666.7,312.2 1667.5,312.5 1668.3,312.8 1669.1,313.1 1669.9,313.4 1670.7,313.8 1671.5,314.1 1672.3,314.4 1673.1,314.7 1673.9,315 1674.7,315.3 1675.5,315.6 1676.3,315.9 1677.1,316.2 1677.9,316.5 1678.7,316.8 1679.5,317.1 1680.3,317.3 1681.1,317.6 1681.9,317.9 1682.7,318.2 1683.5,318.4 1684.3,318.7 1685.1,319 1685.9,319.2 1686.7,319.5 1687.5,319.7 1688.3,320 1689.1,320.2 1689.9,320.5 1690.7,320.7 1691.5,321 1692.3,321.2 1693.1,321.4 1693.9,321.7 1694.7,321.9 1695.5,322.1 1696.3,322.4 1697.1,322.6 1697.9,322.8 1698.7,323 1699.5,323.2 1700.3,323.4 1701.1,323.6 1701.9,323.8 1702.7,324 1703.5,324.2 1704.3,324.4 1705.1,324.6 1705.9,324.8 1706.7,325 1707.5,325.2 1708.3,325.4 1709.1,325.5 1709.9,325.7 1710.7,325.9 1711.5,326.1 1712.3,326.3 1713.1,326.4 1713.9,326.6 1714.7,326.8 1715.5,327 1716.3,327.1 1717.1,327.3 1717.9,327.4 1718.7,327.6 1719.5,327.8 1720.3,327.9 1721.1,328.1 1721.9,328.2 1722.7,328.4 1723.5,328.6 1724.3,328.7 1725.1,328.9 1725.9,329 1726.7,329.2 1727.5,329.3 1728.3,329.5 1729.1,329.6 1729.9,329.7 1730.7,329.9 1731.5,330 1732.3,330.2 1733.1,330.3 1733.9,330.4 1734.7,330.6 1735.5,330.7 1736.3,330.8 1737.1,331 1737.9,331.1 1738.7,331.2 1739.5,331.4 1740.3,331.5 1741.1,331.6 1741.9,331.8 1742.7,331.9 1743.5,332 1744.3,332.1 1745.1,332.3 1745.9,332.4 1746.7,332.5 1747.5,332.6 1748.3,332.8 1749.1,332.9 1749.9,333 1750.7,333.1 1751.5,333.2 1752.3,333.4 1753.1,333.5 1753.9,333.6 1754.7,333.7 1755.5,333.8 1756.3,334 1757.1,334.1 1757.9,334.2 1758.7,334.3 1759.5,334.4 1760.3,334.5 1761.1,334.6 1761.9,334.8 1762.7,334.9 1763.5,335 1764.3,335.1 1765.1,335.2 1765.9,335.3 1766.7,335.4 1767.5,335.5 1768.3,335.6 1769.1,335.7 1769.9,335.8 1770.7,335.9 1771.5,336 1772.3,336.1 1773.1,336.2 1773.9,336.3 1774.7,336.4 1775.5,336.5 1776.3,336.6 1777.1,336.6 1777.9,336.7 1778.7,336.8 1779.5,336.9 1780.3,337 1781.1,337.1 1781.9,337.1 1782.7,337.2 1783.5,337.3 1784.3,337.4 1785.1,337.4 1785.9,337.5 1786.7,337.6 1787.5,337.7 1788.3,337.7 1789.1,337.8 1789.9,337.9 1790.7,337.9 1791.5,338 1792.3,338 1793.1,338.1 1793.9,338.2 1794.7,338.2 1795.5,338.3 1796.3,338.3 1797.1,338.4 1797.9,338.5 1798.7,338.5 1799.5,338.6 1800.3,338.6 1801.1,338.7 1801.9,338.7 1802.7,338.8 1803.5,338.8 1804.3,338.9 1805.1,338.9 1805.9,339 1806.7,339 1807.5,339.1 1808.3,339.1 1809.1,339.2 1809.9,339.2 1810.7,339.3 1811.5,339.3 1812.3,339.4 1813.1,339.4 1813.9,339.5 1814.7,339.5 1815.5,339.6 1816.3,339.6 1817.1,339.7 1817.9,339.7 1818.7,339.8 1819.5,339.8 1820.3,339.9 1821.1,340 1821.9,340 1822.7,340.1 1823.5,340.1 1824.3,340.2 1825.1,340.2 1825.9,340.3 1826.7,340.3 1827.5,340.4 1828.3,340.4 1829.1,340.5 1829.9,340.6 1830.7,340.6 1831.5,340.7 1832.3,340.7 1833.1,340.8 1833.9,340.9 1834.7,340.9 1835.5,341 1836.3,341 1837.1,341.1 1837.9,341.2 1838.7,341.2 1839.5,341.3 1840.3,341.4 1841.1,341.4 1841.9,341.5 1842.7,341.5 1843.5,341.6 1844.3,341.7 1845.1,341.7 1845.9,341.8 1846.7,341.9 1847.5,341.9 1848.3,342 1849.1,342 1849.9,342.1 1850.7,342.2 1851.5,342.2 1852.3,342.3 1853.1,342.3 1853.9,342.4 1854.7,342.4 1855.5,342.5 1856.3,342.5 1857.1,342.6 1857.9,342.7 1858.7,342.7 1859.5,342.8 1860.3,342.8 1861.1,342.8 1861.9,342.9 1862.7,342.9 1863.5,343 1864.3,343 1865.1,343.1 1865.9,343.1 1866.7,343.1 1867.5,343.2 1868.3,343.2 1869.1,343.2 1869.9,343.3 1870.7,343.3 1871.5,343.3 1872.3,343.4 1873.1,343.4 1873.9,343.4 1874.7,343.5 1875.5,343.5 1876.3,343.5 1877.1,343.5 1877.9,343.6 1878.7,343.6 1879.5,343.6 1880.3,343.7 1881.1,343.7 1881.9,343.7 1882.7,343.7 1883.5,343.8 1884.3,343.8 1885.1,343.8 1885.9,343.8 1886.7,343.8 1887.5,343.9 1888.3,343.9 1889.1,343.9 1889.9,343.9 1890.7,344 1891.5,344 1892.3,344 1893.1,344 1893.9,344 1894.7,344.1 1895.5,344.1 1896.3,344.1 1897.1,344.1 1897.9,344.2 1898.7,344.2 1899.5,344.2 1900.3,344.2 1901.1,344.2 1901.9,344.3 1902.7,344.3 1903.5,344.3 1904.3,344.3 1905.1,344.4 1905.9,344.4 1906.7,344.4 1907.5,344.4 1908.3,344.5 1909.1,344.5 1909.9,344.5 1910.7,344.5 1911.5,344.6 1912.3,344.6 1913.1,344.6 1913.9,344.6 1914.7,344.7 1915.5,344.7 1916.3,344.7 1917.1,344.7 1917.9,344.8 1918.7,344.8 1919.5,344.8 1920.3,344.8 1921.1,344.9 1921.9,344.9 1922.7,344.9 1923.5,344.9 1924.3,345 1925.1,345 1925.9,345 1926.7,345 1927.5,345.1 1928.3,345.1 1929.1,345.1 1929.9,345.1 1930.7,345.2 1931.5,345.2 1932.3,345.2 1933.1,345.2 1933.9,345.3 1934.7,345.3 1934.9,345.3" fill="none" stroke="#555" stroke-width="2.6" stroke-linejoin="round"/>
<rect x="1255.5" y="17.5" width="682.5" height="388.7" rx="3" fill="none" stroke="#000" stroke-width="3.2"/>
</g>
<g id="chartA">
<line x1="264" y1="461.5" x2="264" y2="888" stroke="#808080" stroke-width="1.8"/>
<line x1="264" y1="655" x2="1943.5" y2="655" stroke="#8a8a8a" stroke-width="2.2"/>
<g font-size="22" fill="#111" stroke="#111" stroke-width="0.35"><text x="242" y="463.5" text-anchor="end" dy="0.36em" textLength="37.5" lengthAdjust="spacingAndGlyphs">100</text><text x="242" y="502" text-anchor="end" dy="0.36em" textLength="25" lengthAdjust="spacingAndGlyphs">80</text><text x="242" y="540.5" text-anchor="end" dy="0.36em" textLength="25" lengthAdjust="spacingAndGlyphs">60</text><text x="242" y="579" text-anchor="end" dy="0.36em" textLength="25" lengthAdjust="spacingAndGlyphs">40</text><text x="242" y="617.5" text-anchor="end" dy="0.36em" textLength="25" lengthAdjust="spacingAndGlyphs">20</text><text x="242" y="656" text-anchor="end" dy="0.36em" textLength="14" lengthAdjust="spacingAndGlyphs">0</text><text x="242" y="695.3" text-anchor="end" dy="0.36em" textLength="34" lengthAdjust="spacingAndGlyphs">-20</text><text x="242" y="733.8" text-anchor="end" dy="0.36em" textLength="34" lengthAdjust="spacingAndGlyphs">-40</text><text x="242" y="772.3" text-anchor="end" dy="0.36em" textLength="34" lengthAdjust="spacingAndGlyphs">-60</text><text x="242" y="810.8" text-anchor="end" dy="0.36em" textLength="34" lengthAdjust="spacingAndGlyphs">-80</text><text x="242" y="849.3" text-anchor="end" dy="0.36em" textLength="47" lengthAdjust="spacingAndGlyphs">-100</text><text x="242" y="887.8" text-anchor="end" dy="0.36em" textLength="47" lengthAdjust="spacingAndGlyphs">-120</text></g>
<text transform="translate(172,526.5) rotate(-90)" text-anchor="middle" dy="0.36em" font-size="21.5" font-weight="bold" fill="#111" stroke="#111" stroke-width="0.6" textLength="105" lengthAdjust="spacingAndGlyphs">Thousands</text>
<g font-size="21.6" fill="#111" stroke="#111" stroke-width="0.5"><text transform="translate(265,672.3) rotate(-90)" text-anchor="end" dy="0.36em">1</text><text transform="translate(295.6,672.3) rotate(-90)" text-anchor="end" dy="0.36em">147</text><text transform="translate(326.2,672.3) rotate(-90)" text-anchor="end" dy="0.36em">293</text><text transform="translate(356.9,672.3) rotate(-90)" text-anchor="end" dy="0.36em">439</text><text transform="translate(387.5,672.3) rotate(-90)" text-anchor="end" dy="0.36em">585</text><text transform="translate(418.1,672.3) rotate(-90)" text-anchor="end" dy="0.36em">731</text><text transform="translate(448.7,672.3) rotate(-90)" text-anchor="end" dy="0.36em">877</text><text transform="translate(479.3,672.3) rotate(-90)" text-anchor="end" dy="0.36em">1023</text><text transform="translate(510,672.3) rotate(-90)" text-anchor="end" dy="0.36em">1169</text><text transform="translate(540.6,672.3) rotate(-90)" text-anchor="end" dy="0.36em">1315</text><text transform="translate(571.2,672.3) rotate(-90)" text-anchor="end" dy="0.36em">1461</text><text transform="translate(601.8,672.3) rotate(-90)" text-anchor="end" dy="0.36em">1607</text><text transform="translate(632.4,672.3) rotate(-90)" text-anchor="end" dy="0.36em">1753</text><text transform="translate(663.1,672.3) rotate(-90)" text-anchor="end" dy="0.36em">1899</text><text transform="translate(693.7,672.3) rotate(-90)" text-anchor="end" dy="0.36em">2045</text><text transform="translate(724.3,672.3) rotate(-90)" text-anchor="end" dy="0.36em">2191</text><text transform="translate(754.9,672.3) rotate(-90)" text-anchor="end" dy="0.36em">2337</text><text transform="translate(785.5,672.3) rotate(-90)" text-anchor="end" dy="0.36em">2483</text><text transform="translate(816.2,672.3) rotate(-90)" text-anchor="end" dy="0.36em">2629</text><text transform="translate(846.8,672.3) rotate(-90)" text-anchor="end" dy="0.36em">2775</text><text transform="translate(877.4,672.3) rotate(-90)" text-anchor="end" dy="0.36em">2921</text><text transform="translate(908,672.3) rotate(-90)" text-anchor="end" dy="0.36em">3067</text><text transform="translate(938.6,672.3) rotate(-90)" text-anchor="end" dy="0.36em">3213</text><text transform="translate(969.3,672.3) rotate(-90)" text-anchor="end" dy="0.36em">3359</text><text transform="translate(999.9,672.3) rotate(-90)" text-anchor="end" dy="0.36em">3505</text><text transform="translate(1030.5,672.3) rotate(-90)" text-anchor="end" dy="0.36em">3651</text><text transform="translate(1061.1,672.3) rotate(-90)" text-anchor="end" dy="0.36em">3797</text><text transform="translate(1091.7,672.3) rotate(-90)" text-anchor="end" dy="0.36em">3943</text><text transform="translate(1122.4,672.3) rotate(-90)" text-anchor="end" dy="0.36em">4089</text><text transform="translate(1153,672.3) rotate(-90)" text-anchor="end" dy="0.36em">4235</text><text transform="translate(1183.6,672.3) rotate(-90)" text-anchor="end" dy="0.36em">4381</text><text transform="translate(1214.2,672.3) rotate(-90)" text-anchor="end" dy="0.36em">4527</text><text transform="translate(1244.8,672.3) rotate(-90)" text-anchor="end" dy="0.36em">4673</text><text transform="translate(1275.5,672.3) rotate(-90)" text-anchor="end" dy="0.36em">4819</text><text transform="translate(1306.1,672.3) rotate(-90)" text-anchor="end" dy="0.36em">4965</text><text transform="translate(1336.7,672.3) rotate(-90)" text-anchor="end" dy="0.36em">5111</text><text transform="translate(1367.3,672.3) rotate(-90)" text-anchor="end" dy="0.36em">5257</text><text transform="translate(1397.9,672.3) rotate(-90)" text-anchor="end" dy="0.36em">5403</text><text transform="translate(1428.6,672.3) rotate(-90)" text-anchor="end" dy="0.36em">5549</text><text transform="translate(1459.2,672.3) rotate(-90)" text-anchor="end" dy="0.36em">5695</text><text transform="translate(1489.8,672.3) rotate(-90)" text-anchor="end" dy="0.36em">5841</text><text transform="translate(1520.4,672.3) rotate(-90)" text-anchor="end" dy="0.36em">5987</text><text transform="translate(1551,672.3) rotate(-90)" text-anchor="end" dy="0.36em">6133</text><text transform="translate(1581.7,672.3) rotate(-90)" text-anchor="end" dy="0.36em">6279</text><text transform="translate(1612.3,672.3) rotate(-90)" text-anchor="end" dy="0.36em">6425</text><text transform="translate(1642.9,672.3) rotate(-90)" text-anchor="end" dy="0.36em">6571</text><text transform="translate(1673.5,672.3) rotate(-90)" text-anchor="end" dy="0.36em">6717</text><text transform="translate(1704.1,672.3) rotate(-90)" text-anchor="end" dy="0.36em">6863</text><text transform="translate(1734.8,672.3) rotate(-90)" text-anchor="end" dy="0.36em">7009</text><text transform="translate(1765.4,672.3) rotate(-90)" text-anchor="end" dy="0.36em">7155</text><text transform="translate(1796,672.3) rotate(-90)" text-anchor="end" dy="0.36em">7301</text><text transform="translate(1826.6,672.3) rotate(-90)" text-anchor="end" dy="0.36em">7447</text><text transform="translate(1857.2,672.3) rotate(-90)" text-anchor="end" dy="0.36em">7593</text><text transform="translate(1887.9,672.3) rotate(-90)" text-anchor="end" dy="0.36em">7739</text><text transform="translate(1918.5,672.3) rotate(-90)" text-anchor="end" dy="0.36em">7885</text></g>
<g fill="rgb(243,140,56)"><polygon points="269,548.2 273.2,548.2 273.6,674.2 274.4,743.5 268.6,743.5"/><polygon points="310.9,555.3 315.1,555.3 315.5,674.2 316.3,743.5 310.5,743.5"/><polygon points="352.9,555.3 357.1,555.3 357.5,674.2 358.3,743.5 352.5,743.5"/><polygon points="394.8,555.3 399,555.3 399.4,674.2 400.2,743.5 394.4,743.5"/><polygon points="436.7,555.3 440.9,555.3 441.3,674.2 442.1,743.5 436.3,743.5"/><polygon points="478.6,555.3 482.8,555.3 483.2,674.2 484,743.5 478.2,743.5"/><polygon points="520.6,555.3 524.8,555.3 525.2,674.2 526,743.5 520.2,743.5"/><polygon points="562.5,554.9 566.7,554.9 567.1,674.2 567.9,732 562.1,732"/><polygon points="604.4,546.4 608.6,546.4 609,674.2 609.8,732 604,732"/><polygon points="646.4,543.9 650.6,543.9 651,674.2 651.8,732 646,732"/><polygon points="688.3,546.4 692.5,546.4 692.9,674.2 693.7,732 687.9,732"/><polygon points="730.2,545.3 734.4,545.3 734.8,674.2 735.6,732 729.8,732"/><polygon points="772.2,544.3 776.4,544.3 776.8,674.2 777.6,732 771.8,732"/><polygon points="814.1,545.3 818.3,545.3 818.7,674.2 819.5,732 813.7,732"/><polygon points="856,546.2 860.2,546.2 860.6,674.2 861.4,732 855.6,732"/><polygon points="898,546.2 902.2,546.2 902.6,674.2 903.4,732 897.6,732"/><polygon points="939.9,547.2 944.1,547.2 944.5,674.2 945.3,732 939.5,732"/><polygon points="981.8,545.3 986,545.3 986.4,674.2 987.2,732 981.4,732"/><polygon points="1023.7,546.2 1027.9,546.2 1028.3,674.2 1029.1,732 1023.3,732"/><polygon points="1065.7,544.3 1069.9,544.3 1070.3,674.2 1071.1,732 1065.3,732"/><polygon points="1148.5,542.2 1152.7,542.2 1153.1,674.2 1153.9,755.1 1148.1,755.1"/><polygon points="1486,553.7 1490.2,553.7 1490.6,674.2 1491.4,755.1 1485.6,755.1"/></g>
<polyline points="264.6,820.5 265.6,820.5 267,812.9 269,548.2 269.6,525.1 270.4,521.2 271.8,521.2 272.6,525.1 273.2,548.2 273.6,674.2 274.4,743.5 275.4,761.3 276.4,776 277.4,788.3 278.4,798.4 279.4,806.9 280.4,813.9 281.4,819.8 282.4,824.6 283.4,828.6 284.4,832 285.4,834.8 286.4,837.1 287.4,839 288.4,840.6 289.4,841.9 290.4,843 291.4,844 292.4,844.7 293.4,845.4 294.4,845.9 295.4,846.3 296.4,846.7 297.4,847 298.4,847.2 299.4,847.4 300.4,847.6 301.4,847.8 302.4,847.9 303.4,848 304.4,848.1 305.4,848.1 306.4,848.2 307.4,848.2 307.9,848.5 307.9,848.5 308.5,835 310.1,827.3 310.9,555.3 311.5,532.2 312.3,528.3 313.7,528.3 314.5,532.2 315.1,555.3 315.5,674.2 316.3,743.5 317.3,761.3 318.3,776 319.3,788.3 320.3,798.4 321.3,806.9 322.3,813.9 323.3,819.8 324.3,824.6 325.3,828.6 326.3,832 327.3,834.8 328.3,837.1 329.3,839 330.3,840.6 331.3,841.9 332.3,843 333.3,844 334.3,844.7 335.3,845.4 336.3,845.9 337.3,846.3 338.3,846.7 339.3,847 340.3,847.2 341.3,847.4 342.3,847.6 343.3,847.8 344.3,847.9 345.3,848 346.3,848.1 347.3,848.1 348.3,848.2 349.3,848.2 349.9,848.5 349.9,848.5 350.5,835 352.1,827.3 352.9,555.3 353.5,532.2 354.3,528.3 355.7,528.3 356.5,532.2 357.1,555.3 357.5,674.2 358.3,743.5 359.3,761.3 360.3,776 361.3,788.3 362.3,798.4 363.3,806.9 364.3,813.9 365.3,819.8 366.3,824.6 367.3,828.6 368.3,832 369.3,834.8 370.3,837.1 371.3,839 372.3,840.6 373.3,841.9 374.3,843 375.3,844 376.3,844.7 377.3,845.4 378.3,845.9 379.3,846.3 380.3,846.7 381.3,847 382.3,847.2 383.3,847.4 384.3,847.6 385.3,847.8 386.3,847.9 387.3,848 388.3,848.1 389.3,848.1 390.3,848.2 391.3,848.2 391.8,848.5 391.8,848.5 392.4,835 394,827.3 394.8,555.3 395.4,532.2 396.2,528.3 397.6,528.3 398.4,532.2 399,555.3 399.4,674.2 400.2,743.5 401.2,761.3 402.2,776 403.2,788.3 404.2,798.4 405.2,806.9 406.2,813.9 407.2,819.8 408.2,824.6 409.2,828.6 410.2,832 411.2,834.8 412.2,837.1 413.2,839 414.2,840.6 415.2,841.9 416.2,843 417.2,844 418.2,844.7 419.2,845.4 420.2,845.9 421.2,846.3 422.2,846.7 423.2,847 424.2,847.2 425.2,847.4 426.2,847.6 427.2,847.8 428.2,847.9 429.2,848 430.2,848.1 431.2,848.1 432.2,848.2 433.2,848.2 433.7,848.5 433.7,848.5 434.3,835 435.9,827.3 436.7,555.3 437.3,532.2 438.1,528.3 439.5,528.3 440.3,532.2 440.9,555.3 441.3,674.2 442.1,743.5 443.1,761.3 444.1,776 445.1,788.3 446.1,798.4 447.1,806.9 448.1,813.9 449.1,819.8 450.1,824.6 451.1,828.6 452.1,832 453.1,834.8 454.1,837.1 455.1,839 456.1,840.6 457.1,841.9 458.1,843 459.1,844 460.1,844.7 461.1,845.4 462.1,845.9 463.1,846.3 464.1,846.7 465.1,847 466.1,847.2 467.1,847.4 468.1,847.6 469.1,847.8 470.1,847.9 471.1,848 472.1,848.1 473.1,848.1 474.1,848.2 475.1,848.2 475.6,848.5 475.6,848.5 476.2,835 477.8,827.3 478.6,555.3 479.2,532.2 480,528.3 481.4,528.3 482.2,532.2 482.8,555.3 483.2,674.2 484,743.5 485,761.3 486,776 487,788.3 488,798.4 489,806.9 490,813.9 491,819.8 492,824.6 493,828.6 494,832 495,834.8 496,837.1 497,839 498,840.6 499,841.9 500,843 501,844 502,844.7 503,845.4 504,845.9 505,846.3 506,846.7 507,847 508,847.2 509,847.4 510,847.6 511,847.8 512,847.9 513,848 514,848.1 515,848.1 516,848.2 517,848.2 517.6,848.5 517.6,848.5 518.2,835 519.8,827.3 520.6,555.3 521.2,532.2 522,528.3 523.4,528.3 524.2,532.2 524.8,555.3 525.2,674.2 526,743.5 527,761.3 528,776 529,788.3 530,798.4 531,806.9 532,813.9 533,819.8 534,824.6 535,828.6 536,832 537,834.8 538,837.1 539,839 540,840.6 541,841.9 542,843 543,844 544,844.7 545,845.4 546,845.9 547,846.3 548,846.7 549,847 550,847.2 551,847.4 552,847.6 553,847.8 554,847.9 555,848 556,848.1 557,848.1 558,848.2 559,848.2 559.5,848.5 559.5,848.5 560.1,835 561.7,827.3 562.5,554.9 563.1,531.8 563.9,528 565.3,528 566.1,531.8 566.7,554.9 567.1,674.2 567.9,732 568.9,735.7 570.4,741.2 571.9,746.6 573.4,751.8 574.9,756.9 576.4,761.8 577.9,766.6 579.4,771.2 580.9,775.7 582.4,780 583.9,784.2 585.4,788.1 586.9,791.9 588.4,795.5 589.9,798.8 591.4,802 592.9,804.9 594.4,807.5 595.9,809.9 597.4,811.9 598.9,813.5 600.4,814.6 600.9,814.8 601.4,814.8 602,801.3 603.6,793.6 604.4,546.4 605,523.3 605.8,519.5 607.2,519.5 608,523.3 608.6,546.4 609,674.2 609.8,732 610.8,735.5 612.3,740.6 613.8,745.6 615.3,750.4 616.8,755.2 618.3,759.7 619.8,764.2 621.3,768.5 622.8,772.7 624.3,776.7 625.8,780.5 627.3,784.2 628.8,787.7 630.3,791 631.8,794.2 633.3,797.1 634.8,799.8 636.3,802.3 637.8,804.5 639.3,806.3 640.8,807.9 642.3,808.9 642.8,809 643.4,809 644,795.5 645.6,787.8 646.4,543.9 647,520.8 647.8,517 649.2,517 650,520.8 650.6,543.9 651,674.2 651.8,732 652.8,735.4 654.3,740.4 655.8,745.2 657.3,750 658.8,754.6 660.3,759 661.8,763.4 663.3,767.6 664.8,771.7 666.3,775.6 667.8,779.3 669.3,782.9 670.8,786.3 672.3,789.6 673.8,792.6 675.3,795.5 676.8,798.1 678.3,800.5 679.8,802.6 681.3,804.5 682.8,806 684.3,806.9 684.8,807.1 685.3,807.1 685.9,793.6 687.5,785.9 688.3,546.4 688.9,523.3 689.7,519.5 691.1,519.5 691.9,523.3 692.5,546.4 692.9,674.2 693.7,732 694.7,735.4 696.2,740.5 697.7,745.4 699.2,750.2 700.7,754.9 702.2,759.4 703.7,763.8 705.2,768.1 706.7,772.2 708.2,776.1 709.7,779.9 711.2,783.6 712.7,787 714.2,790.3 715.7,793.4 717.2,796.3 718.7,799 720.2,801.4 721.7,803.6 723.2,805.4 724.7,806.9 726.2,807.9 726.7,808 727.2,808 727.8,794.6 729.4,786.9 730.2,545.3 730.8,522.2 731.6,518.3 733,518.3 733.8,522.2 734.4,545.3 734.8,674.2 735.6,732 736.6,735.4 738.1,740.4 739.6,745.2 741.1,750 742.6,754.6 744.1,759 745.6,763.4 747.1,767.6 748.6,771.7 750.1,775.6 751.6,779.3 753.1,782.9 754.6,786.3 756.1,789.6 757.6,792.6 759.1,795.5 760.6,798.1 762.1,800.5 763.6,802.6 765.1,804.5 766.6,806 768.1,806.9 768.6,807.1 769.2,807.1 769.8,793.6 771.4,785.9 772.2,544.3 772.8,521.2 773.6,517.4 775,517.4 775.8,521.2 776.4,544.3 776.8,674.2 777.6,732 778.6,735.3 780.1,740.3 781.6,745.1 783.1,749.7 784.6,754.3 786.1,758.7 787.6,763 789.1,767.1 790.6,771.1 792.1,775 793.6,778.7 795.1,782.3 796.6,785.6 798.1,788.8 799.6,791.8 801.1,794.7 802.6,797.3 804.1,799.6 805.6,801.7 807.1,803.6 808.6,805 810.1,806 810.6,806.1 811.1,806.1 811.7,792.6 813.3,784.9 814.1,545.3 814.7,522.2 815.5,518.3 816.9,518.3 817.7,522.2 818.3,545.3 818.7,674.2 819.5,732 820.5,735.3 822,740.2 823.5,744.9 825,749.5 826.5,754 828,758.4 829.5,762.6 831,766.7 832.5,770.6 834,774.4 835.5,778.1 837,781.6 838.5,784.9 840,788.1 841.5,791.1 843,793.9 844.5,796.4 846,798.8 847.5,800.8 849,802.6 850.5,804.1 852,805 852.5,805.1 853,805.1 853.6,791.7 855.2,784 856,546.2 856.6,523.1 857.4,519.3 858.8,519.3 859.6,523.1 860.2,546.2 860.6,674.2 861.4,732 862.4,735.3 863.9,740 865.4,744.7 866.9,749.3 868.4,753.7 869.9,758 871.4,762.2 872.9,766.2 874.4,770.1 875.9,773.9 877.4,777.5 878.9,781 880.4,784.2 881.9,787.4 883.4,790.3 884.9,793 886.4,795.6 887.9,797.9 889.4,799.9 890.9,801.7 892.4,803.1 893.9,804.1 894.4,804.2 895,804.2 895.6,790.7 897.2,783 898,546.2 898.6,523.1 899.4,519.3 900.8,519.3 901.6,523.1 902.2,546.2 902.6,674.2 903.4,732 904.4,735.2 905.9,739.8 907.4,744.4 908.9,748.8 910.4,753.1 911.9,757.3 913.4,761.4 914.9,765.3 916.4,769.1 917.9,772.8 919.4,776.3 920.9,779.6 922.4,782.8 923.9,785.9 925.4,788.7 926.9,791.4 928.4,793.9 929.9,796.1 931.4,798.1 932.9,799.8 934.4,801.2 935.9,802.1 936.4,802.3 936.9,802.3 937.5,788.8 939.1,781.1 939.9,547.2 940.5,524.1 941.3,520.2 942.7,520.2 943.5,524.1 944.1,547.2 944.5,674.2 945.3,732 946.3,735.2 947.8,739.9 949.3,744.5 950.8,749 952.3,753.4 953.8,757.7 955.3,761.8 956.8,765.8 958.3,769.6 959.8,773.3 961.3,776.9 962.8,780.3 964.3,783.5 965.8,786.6 967.3,789.5 968.8,792.2 970.3,794.7 971.8,797 973.3,799 974.8,800.8 976.3,802.2 977.8,803.1 978.3,803.2 978.8,803.2 979.4,789.8 981,782 981.8,545.3 982.4,522.2 983.2,518.3 984.6,518.3 985.4,522.2 986,545.3 986.4,674.2 987.2,732 988.2,735.2 989.7,739.8 991.2,744.4 992.7,748.8 994.2,753.1 995.7,757.3 997.2,761.4 998.7,765.3 1000.2,769.1 1001.7,772.8 1003.2,776.3 1004.7,779.6 1006.2,782.8 1007.7,785.9 1009.2,788.7 1010.7,791.4 1012.2,793.9 1013.7,796.1 1015.2,798.1 1016.7,799.8 1018.2,801.2 1019.7,802.1 1020.2,802.3 1020.7,802.3 1021.3,788.8 1022.9,781.1 1023.7,546.2 1024.3,523.1 1025.1,519.3 1026.5,519.3 1027.3,523.1 1027.9,546.2 1028.3,674.2 1029.1,732 1030.1,735.2 1031.6,739.8 1033.1,744.4 1034.6,748.8 1036.1,753.1 1037.6,757.3 1039.1,761.4 1040.6,765.3 1042.1,769.1 1043.6,772.8 1045.1,776.3 1046.6,779.6 1048.1,782.8 1049.6,785.9 1051.1,788.7 1052.6,791.4 1054.1,793.9 1055.6,796.1 1057.1,798.1 1058.6,799.8 1060.1,801.2 1061.6,802.1 1062.1,802.3 1062.7,802.3 1063.3,788.8 1064.9,781.1 1065.7,544.3 1066.3,521.2 1067.1,517.4 1068.5,517.4 1069.3,521.2 1069.9,544.3 1070.3,674.2 1071.1,732 1072.1,735.3 1073.6,740.2 1075.1,745 1076.6,749.7 1078.1,754.1 1079.6,758.5 1081.1,762.7 1082.6,766.7 1084.1,770.6 1085.6,774.4 1087.1,777.9 1088.6,781.3 1090.1,784.4 1091.6,787.4 1093.1,790.1 1094.6,792.6 1096.1,794.8 1097.6,796.7 1099.1,798.2 1100.6,799.2 1101.1,799.4 1145.5,799.4 1146.1,785.9 1147.7,778.2 1148.5,542.2 1149.1,519.1 1149.9,515.2 1151.3,515.2 1152.1,519.1 1152.7,542.2 1153.1,674.2 1153.9,755.1 1154.9,768 1155.9,779.3 1156.9,789 1157.9,797.4 1158.9,804.7 1159.9,811.1 1160.9,816.6 1161.9,821.3 1162.9,825.4 1163.9,829 1164.9,832.1 1165.9,834.8 1166.9,837.1 1167.9,839.2 1168.9,840.9 1169.9,842.4 1170.9,843.7 1171.9,844.9 1172.9,845.9 1173.9,846.7 1174.9,847.5 1175.9,848.1 1176.9,848.7 1177.9,849.2 1178.9,849.6 1179.9,849.9 1180.9,850.3 1181.9,850.5 1182.9,850.8 1183.9,851 1184.9,851.2 1185.9,851.3 1186.9,851.4 1187.9,851.6 1188.9,851.7 1189.9,851.7 1190.9,851.8 1191.9,851.9 1192.9,851.9 1193.9,852.3 1483,852.3 1483.6,838.8 1485.2,831.1 1486,553.7 1486.6,530.6 1487.4,526.8 1488.8,526.8 1489.6,530.6 1490.2,553.7 1490.6,674.2 1491.4,755.1 1492.4,768 1493.4,779.3 1494.4,789 1495.4,797.4 1496.4,804.7 1497.4,811.1 1498.4,816.6 1499.4,821.3 1500.4,825.4 1501.4,829 1502.4,832.1 1503.4,834.8 1504.4,837.1 1505.4,839.2 1506.4,840.9 1507.4,842.4 1508.4,843.7 1509.4,844.9 1510.4,845.9 1511.4,846.7 1512.4,847.5 1513.4,848.1 1514.4,848.7 1515.4,849.2 1516.4,849.6 1517.4,849.9 1518.4,850.3 1519.4,850.5 1520.4,850.8 1521.4,851 1522.4,851.2 1523.4,851.3 1524.4,851.4 1525.4,851.6 1526.4,851.7 1527.4,851.7 1528.4,851.8 1529.4,851.9 1530.4,851.9 1531.4,852.3 1944,852.3" fill="none" stroke="rgb(243,140,56)" stroke-width="4.4" stroke-linejoin="round"/>
</g>
<g id="chartB">
<line x1="265.3" y1="960" x2="265.3" y2="1368" stroke="#868686" stroke-width="1.4"/>
<g font-size="22" fill="#111" stroke="#111" stroke-width="0.3"><text x="242.5" y="998.4" text-anchor="end" dy="0.36em" textLength="80" lengthAdjust="spacingAndGlyphs">1.6E-11</text><text x="242.5" y="1044.6" text-anchor="end" dy="0.36em" textLength="80" lengthAdjust="spacingAndGlyphs">1.4E-11</text><text x="242.5" y="1090.8" text-anchor="end" dy="0.36em" textLength="80" lengthAdjust="spacingAndGlyphs">1.2E-11</text><text x="242.5" y="1137" text-anchor="end" dy="0.36em" textLength="60" lengthAdjust="spacingAndGlyphs">1E-11</text><text x="242.5" y="1183.2" text-anchor="end" dy="0.36em">8E-12</text><text x="242.5" y="1229.4" text-anchor="end" dy="0.36em">6E-12</text><text x="242.5" y="1275.6" text-anchor="end" dy="0.36em">4E-12</text><text x="242.5" y="1321.8" text-anchor="end" dy="0.36em">2E-12</text><text x="242.5" y="1368" text-anchor="end" dy="0.36em">0</text></g>
<g font-size="23" fill="#111" stroke="#111" stroke-width="0.5"><text transform="translate(266.2,1383) rotate(-90) scale(1,1.030)" text-anchor="end" dy="0.36em">1</text><text transform="translate(296.8,1383) rotate(-90) scale(1,1.030)" text-anchor="end" dy="0.36em">147</text><text transform="translate(327.4,1383) rotate(-90) scale(1,1.030)" text-anchor="end" dy="0.36em">293</text><text transform="translate(358.1,1383) rotate(-90) scale(1,1.030)" text-anchor="end" dy="0.36em">439</text><text transform="translate(388.7,1383) rotate(-90) scale(1,1.030)" text-anchor="end" dy="0.36em">585</text><text transform="translate(419.3,1383) rotate(-90) scale(1,1.030)" text-anchor="end" dy="0.36em">731</text><text transform="translate(449.9,1383) rotate(-90) scale(1,1.030)" text-anchor="end" dy="0.36em">877</text><text transform="translate(480.5,1383) rotate(-90) scale(1,1.030)" text-anchor="end" dy="0.36em">1023</text><text transform="translate(511.2,1383) rotate(-90) scale(1,1.030)" text-anchor="end" dy="0.36em">1169</text><text transform="translate(541.8,1383) rotate(-90) scale(1,1.030)" text-anchor="end" dy="0.36em">1315</text><text transform="translate(572.4,1383) rotate(-90) scale(1,1.030)" text-anchor="end" dy="0.36em">1461</text><text transform="translate(603,1383) rotate(-90) scale(1,1.030)" text-anchor="end" dy="0.36em">1607</text><text transform="translate(633.6,1383) rotate(-90) scale(1,1.030)" text-anchor="end" dy="0.36em">1753</text><text transform="translate(664.3,1383) rotate(-90) scale(1,1.030)" text-anchor="end" dy="0.36em">1899</text><text transform="translate(694.9,1383) rotate(-90) scale(1,1.030)" text-anchor="end" dy="0.36em">2045</text><text transform="translate(725.5,1383) rotate(-90) scale(1,1.030)" text-anchor="end" dy="0.36em">2191</text><text transform="translate(756.1,1383) rotate(-90) scale(1,1.030)" text-anchor="end" dy="0.36em">2337</text><text transform="translate(786.7,1383) rotate(-90) scale(1,1.030)" text-anchor="end" dy="0.36em">2483</text><text transform="translate(817.4,1383) rotate(-90) scale(1,1.030)" text-anchor="end" dy="0.36em">2629</text><text transform="translate(848,1383) rotate(-90) scale(1,1.030)" text-anchor="end" dy="0.36em">2775</text><text transform="translate(878.6,1383) rotate(-90) scale(1,1.030)" text-anchor="end" dy="0.36em">2921</text><text transform="translate(909.2,1383) rotate(-90) scale(1,1.030)" text-anchor="end" dy="0.36em">3067</text><text transform="translate(939.8,1383) rotate(-90) scale(1,1.030)" text-anchor="end" dy="0.36em">3213</text><text transform="translate(970.5,1383) rotate(-90) scale(1,1.030)" text-anchor="end" dy="0.36em">3359</text><text transform="translate(1001.1,1383) rotate(-90) scale(1,1.030)" text-anchor="end" dy="0.36em">3505</text><text transform="translate(1031.7,1383) rotate(-90) scale(1,1.030)" text-anchor="end" dy="0.36em">3651</text><text transform="translate(1062.3,1383) rotate(-90) scale(1,1.030)" text-anchor="end" dy="0.36em">3797</text><text transform="translate(1092.9,1383) rotate(-90) scale(1,1.030)" text-anchor="end" dy="0.36em">3943</text><text transform="translate(1123.6,1383) rotate(-90) scale(1,1.030)" text-anchor="end" dy="0.36em">4089</text><text transform="translate(1154.2,1383) rotate(-90) scale(1,1.030)" text-anchor="end" dy="0.36em">4235</text><text transform="translate(1184.8,1383) rotate(-90) scale(1,1.030)" text-anchor="end" dy="0.36em">4381</text><text transform="translate(1215.4,1383) rotate(-90) scale(1,1.030)" text-anchor="end" dy="0.36em">4527</text><text transform="translate(1246,1383) rotate(-90) scale(1,1.030)" text-anchor="end" dy="0.36em">4673</text><text transform="translate(1276.7,1383) rotate(-90) scale(1,1.030)" text-anchor="end" dy="0.36em">4819</text><text transform="translate(1307.3,1383) rotate(-90) scale(1,1.030)" text-anchor="end" dy="0.36em">4965</text><text transform="translate(1337.9,1383) rotate(-90) scale(1,1.030)" text-anchor="end" dy="0.36em">5111</text><text transform="translate(1368.5,1383) rotate(-90) scale(1,1.030)" text-anchor="end" dy="0.36em">5257</text><text transform="translate(1399.1,1383) rotate(-90) scale(1,1.030)" text-anchor="end" dy="0.36em">5403</text><text transform="translate(1429.8,1383) rotate(-90) scale(1,1.030)" text-anchor="end" dy="0.36em">5549</text><text transform="translate(1460.4,1383) rotate(-90) scale(1,1.030)" text-anchor="end" dy="0.36em">5695</text><text transform="translate(1491,1383) rotate(-90) scale(1,1.030)" text-anchor="end" dy="0.36em">5841</text><text transform="translate(1521.6,1383) rotate(-90) scale(1,1.030)" text-anchor="end" dy="0.36em">5987</text><text transform="translate(1552.2,1383) rotate(-90) scale(1,1.030)" text-anchor="end" dy="0.36em">6133</text><text transform="translate(1582.9,1383) rotate(-90) scale(1,1.030)" text-anchor="end" dy="0.36em">6279</text><text transform="translate(1613.5,1383) rotate(-90) scale(1,1.030)" text-anchor="end" dy="0.36em">6425</text><text transform="translate(1644.1,1383) rotate(-90) scale(1,1.030)" text-anchor="end" dy="0.36em">6571</text><text transform="translate(1674.7,1383) rotate(-90) scale(1,1.030)" text-anchor="end" dy="0.36em">6717</text><text transform="translate(1705.3,1383) rotate(-90) scale(1,1.030)" text-anchor="end" dy="0.36em">6863</text><text transform="translate(1736,1383) rotate(-90) scale(1,1.030)" text-anchor="end" dy="0.36em">7009</text><text transform="translate(1766.6,1383) rotate(-90) scale(1,1.030)" text-anchor="end" dy="0.36em">7155</text><text transform="translate(1797.2,1383) rotate(-90) scale(1,1.030)" text-anchor="end" dy="0.36em">7301</text><text transform="translate(1827.8,1383) rotate(-90) scale(1,1.030)" text-anchor="end" dy="0.36em">7447</text><text transform="translate(1858.4,1383) rotate(-90) scale(1,1.030)" text-anchor="end" dy="0.36em">7593</text><text transform="translate(1889.1,1383) rotate(-90) scale(1,1.030)" text-anchor="end" dy="0.36em">7739</text><text transform="translate(1919.7,1383) rotate(-90) scale(1,1.030)" text-anchor="end" dy="0.36em">7885</text></g>
<polyline points="265,1368 268.5,1368 269.5,1059.8 271.3,1368 310.4,1368 311.4,1059.8 313.2,1368 352.4,1368 353.4,1059.8 355.2,1368 394.3,1368 395.3,1059.8 397.1,1368 436.2,1368 437.2,1059.8 439,1368 478.1,1368 479.1,1059.8 480.9,1368 520.1,1368 521.1,1059.8 522.9,1368 562,1368 563,1059.8 564.8,1368 603.9,1368 604.9,1059.8 606.7,1368 645.9,1368 646.9,1059.8 648.7,1368 687.8,1368 688.8,1037.2 690.6,1368 729.7,1368 730.7,1162.9 732.5,1368 771.7,1368 772.7,1178.6 774.5,1368 813.6,1368 814.6,1190.1 816.4,1368 855.5,1368 856.5,1051.5 858.3,1368 897.5,1368 898.5,1023.8 900.2,1368 939.4,1368 940.4,1010 942.2,1368 981.3,1368 982.3,1101.2 984.1,1368 1023.2,1368 1024.2,1060.8 1026,1368 1065.2,1368 1066.2,1086.2 1068,1368 1150.2,1368 1151.2,1059.2 1153,1368 1485.8,1368 1486.8,1060.8 1488.6,1368 1935.4,1368" fill="none" stroke="#BF3339" stroke-width="4" stroke-linejoin="round"/>
</g>
<g id="chartC">
<line x1="265" y1="1486.5" x2="265" y2="1694.5" stroke="#868686" stroke-width="1.4"/>
<line x1="265" y1="1694.5" x2="1945" y2="1694.5" stroke="#9a9a9a" stroke-width="2"/>
<g font-size="21.5" fill="#111" stroke="#111" stroke-width="0.3"><text x="241" y="1486.5" text-anchor="end" dy="0.36em">4.00E+01</text><text x="241" y="1538.5" text-anchor="end" dy="0.36em">3.00E+01</text><text x="241" y="1590.5" text-anchor="end" dy="0.36em">2.00E+01</text><text x="241" y="1642.5" text-anchor="end" dy="0.36em">1.00E+01</text><text x="241" y="1694.5" text-anchor="end" dy="0.36em">0.00E+00</text></g>
<g font-size="23" fill="#111" stroke="#111" stroke-width="0.5"><text transform="translate(267.3,1710.5) rotate(-90) scale(1,1.030)" text-anchor="end" dy="0.36em">1</text><text transform="translate(297.9,1710.5) rotate(-90) scale(1,1.030)" text-anchor="end" dy="0.36em">147</text><text transform="translate(328.5,1710.5) rotate(-90) scale(1,1.030)" text-anchor="end" dy="0.36em">293</text><text transform="translate(359.2,1710.5) rotate(-90) scale(1,1.030)" text-anchor="end" dy="0.36em">439</text><text transform="translate(389.8,1710.5) rotate(-90) scale(1,1.030)" text-anchor="end" dy="0.36em">585</text><text transform="translate(420.4,1710.5) rotate(-90) scale(1,1.030)" text-anchor="end" dy="0.36em">731</text><text transform="translate(451,1710.5) rotate(-90) scale(1,1.030)" text-anchor="end" dy="0.36em">877</text><text transform="translate(481.6,1710.5) rotate(-90) scale(1,1.030)" text-anchor="end" dy="0.36em">1023</text><text transform="translate(512.3,1710.5) rotate(-90) scale(1,1.030)" text-anchor="end" dy="0.36em">1169</text><text transform="translate(542.9,1710.5) rotate(-90) scale(1,1.030)" text-anchor="end" dy="0.36em">1315</text><text transform="translate(573.5,1710.5) rotate(-90) scale(1,1.030)" text-anchor="end" dy="0.36em">1461</text><text transform="translate(604.1,1710.5) rotate(-90) scale(1,1.030)" text-anchor="end" dy="0.36em">1607</text><text transform="translate(634.7,1710.5) rotate(-90) scale(1,1.030)" text-anchor="end" dy="0.36em">1753</text><text transform="translate(665.4,1710.5) rotate(-90) scale(1,1.030)" text-anchor="end" dy="0.36em">1899</text><text transform="translate(696,1710.5) rotate(-90) scale(1,1.030)" text-anchor="end" dy="0.36em">2045</text><text transform="translate(726.6,1710.5) rotate(-90) scale(1,1.030)" text-anchor="end" dy="0.36em">2191</text><text transform="translate(757.2,1710.5) rotate(-90) scale(1,1.030)" text-anchor="end" dy="0.36em">2337</text><text transform="translate(787.8,1710.5) rotate(-90) scale(1,1.030)" text-anchor="end" dy="0.36em">2483</text><text transform="translate(818.5,1710.5) rotate(-90) scale(1,1.030)" text-anchor="end" dy="0.36em">2629</text><text transform="translate(849.1,1710.5) rotate(-90) scale(1,1.030)" text-anchor="end" dy="0.36em">2775</text><text transform="translate(879.7,1710.5) rotate(-90) scale(1,1.030)" text-anchor="end" dy="0.36em">2921</text><text transform="translate(910.3,1710.5) rotate(-90) scale(1,1.030)" text-anchor="end" dy="0.36em">3067</text><text transform="translate(940.9,1710.5) rotate(-90) scale(1,1.030)" text-anchor="end" dy="0.36em">3213</text><text transform="translate(971.6,1710.5) rotate(-90) scale(1,1.030)" text-anchor="end" dy="0.36em">3359</text><text transform="translate(1002.2,1710.5) rotate(-90) scale(1,1.030)" text-anchor="end" dy="0.36em">3505</text><text transform="translate(1032.8,1710.5) rotate(-90) scale(1,1.030)" text-anchor="end" dy="0.36em">3651</text><text transform="translate(1063.4,1710.5) rotate(-90) scale(1,1.030)" text-anchor="end" dy="0.36em">3797</text><text transform="translate(1094,1710.5) rotate(-90) scale(1,1.030)" text-anchor="end" dy="0.36em">3943</text><text transform="translate(1124.7,1710.5) rotate(-90) scale(1,1.030)" text-anchor="end" dy="0.36em">4089</text><text transform="translate(1155.3,1710.5) rotate(-90) scale(1,1.030)" text-anchor="end" dy="0.36em">4235</text><text transform="translate(1185.9,1710.5) rotate(-90) scale(1,1.030)" text-anchor="end" dy="0.36em">4381</text><text transform="translate(1216.5,1710.5) rotate(-90) scale(1,1.030)" text-anchor="end" dy="0.36em">4527</text><text transform="translate(1247.1,1710.5) rotate(-90) scale(1,1.030)" text-anchor="end" dy="0.36em">4673</text><text transform="translate(1277.8,1710.5) rotate(-90) scale(1,1.030)" text-anchor="end" dy="0.36em">4819</text><text transform="translate(1308.4,1710.5) rotate(-90) scale(1,1.030)" text-anchor="end" dy="0.36em">4965</text><text transform="translate(1339,1710.5) rotate(-90) scale(1,1.030)" text-anchor="end" dy="0.36em">5111</text><text transform="translate(1369.6,1710.5) rotate(-90) scale(1,1.030)" text-anchor="end" dy="0.36em">5257</text><text transform="translate(1400.2,1710.5) rotate(-90) scale(1,1.030)" text-anchor="end" dy="0.36em">5403</text><text transform="translate(1430.9,1710.5) rotate(-90) scale(1,1.030)" text-anchor="end" dy="0.36em">5549</text><text transform="translate(1461.5,1710.5) rotate(-90) scale(1,1.030)" text-anchor="end" dy="0.36em">5695</text><text transform="translate(1492.1,1710.5) rotate(-90) scale(1,1.030)" text-anchor="end" dy="0.36em">5841</text><text transform="translate(1522.7,1710.5) rotate(-90) scale(1,1.030)" text-anchor="end" dy="0.36em">5987</text><text transform="translate(1553.3,1710.5) rotate(-90) scale(1,1.030)" text-anchor="end" dy="0.36em">6133</text><text transform="translate(1584,1710.5) rotate(-90) scale(1,1.030)" text-anchor="end" dy="0.36em">6279</text><text transform="translate(1614.6,1710.5) rotate(-90) scale(1,1.030)" text-anchor="end" dy="0.36em">6425</text><text transform="translate(1645.2,1710.5) rotate(-90) scale(1,1.030)" text-anchor="end" dy="0.36em">6571</text><text transform="translate(1675.8,1710.5) rotate(-90) scale(1,1.030)" text-anchor="end" dy="0.36em">6717</text><text transform="translate(1706.4,1710.5) rotate(-90) scale(1,1.030)" text-anchor="end" dy="0.36em">6863</text><text transform="translate(1737.1,1710.5) rotate(-90) scale(1,1.030)" text-anchor="end" dy="0.36em">7009</text><text transform="translate(1767.7,1710.5) rotate(-90) scale(1,1.030)" text-anchor="end" dy="0.36em">7155</text><text transform="translate(1798.3,1710.5) rotate(-90) scale(1,1.030)" text-anchor="end" dy="0.36em">7301</text><text transform="translate(1828.9,1710.5) rotate(-90) scale(1,1.030)" text-anchor="end" dy="0.36em">7447</text><text transform="translate(1859.5,1710.5) rotate(-90) scale(1,1.030)" text-anchor="end" dy="0.36em">7593</text><text transform="translate(1890.2,1710.5) rotate(-90) scale(1,1.030)" text-anchor="end" dy="0.36em">7739</text><text transform="translate(1920.8,1710.5) rotate(-90) scale(1,1.030)" text-anchor="end" dy="0.36em">7885</text></g>
<polyline points="264.5,1693.5 442.9,1670.7 471.4,1664.3 484,1662.9 484,1662.9 484.7,1662.7 485.4,1662 486.1,1660.9 486.8,1659.7 487.5,1658.2 488.2,1655.8 488.9,1651.9 489.6,1647 490.3,1641.6 491,1636.4 491.7,1631.7 492.4,1627.9 493.1,1624.2 493.8,1620.6 494.5,1617.2 495.2,1614.2 495.9,1611.5 496.6,1609.4 497.3,1607.5 498,1606.1 498.7,1605.4 499.4,1605 500.1,1604.8 500.8,1604.9 501.5,1605.5 502.2,1606.4 502.9,1607.4 503.6,1608.3 504.3,1609.3 505,1610.3 505.7,1611.4 506.4,1612.5 507.1,1613.6 507.8,1614.7 508.5,1615.7 509.2,1616.8 509.9,1617.8 510.6,1618.8 511.3,1619.9 512,1620.9 512.7,1621.8 513.4,1622.7 514.1,1623.6 514.8,1624.5 515.5,1625.3 516.2,1626.1 516.9,1626.9 517.6,1627.7 518.3,1628.4 519,1629.1 519.7,1629.8 520.4,1630.5 521.1,1631.1 521.4,1631.4 522.3,1628 523.2,1545.7 525,1552 526.8,1556.4 562.2,1560.9 564.2,1557.5 565.7,1557.5 568.2,1560.5 604.1,1563.8 606.1,1560.4 607.6,1560.4 610.1,1563.4 646.1,1566.7 648.1,1563.3 649.6,1563.3 652.1,1566.3 688,1569.6 690,1566.2 691.5,1566.2 694,1569.3 729.9,1572.9 731.9,1569.5 733.4,1569.5 735.9,1572.6 771.9,1576.2 773.9,1572.8 775.4,1572.8 777.9,1575.9 813.8,1579.5 815.8,1576.1 817.3,1576.1 819.8,1579.2 855.7,1582.9 857.7,1579.5 859.2,1579.5 861.7,1582.5 897.6,1586.1 899.6,1582.6 901.1,1582.6 903.6,1585.6 939.6,1588.4 941.6,1584.9 943.1,1584.9 945.6,1587.9 981.5,1590.7 983.5,1587.3 985,1587.3 987.5,1590.3 1023.4,1593.1 1025.4,1589.6 1026.9,1589.6 1029.4,1592.6 1065.4,1595.4 1067.4,1591.9 1068.9,1591.9 1071.4,1594.9 1148,1599.6 1150,1596.1 1151.5,1596.1 1154,1599.1 1249.6,1603.6 1250.6,1606.4 1251.6,1610.5 1252.6,1617 1253.6,1622.7 1254.6,1627.2 1255.6,1630.9 1256.6,1633.4 1257.6,1635.5 1258.6,1637.3 1259.6,1638.9 1260.6,1640.2 1261.6,1641.5 1262.6,1642.7 1263.6,1643.9 1264.6,1644.9 1265.6,1645.9 1266.6,1646.8 1267.6,1647.7 1268.6,1648.5 1269.6,1649.2 1270.6,1649.9 1271.6,1650.5 1272.6,1651.1 1273.6,1651.7 1274.6,1652.2 1275.6,1652.7 1276.6,1653.1 1277.6,1653.6 1278.6,1654 1279.6,1654.4 1280.6,1654.8 1281.6,1655.2 1282.6,1655.6 1283.6,1656 1284.6,1656.4 1285.6,1656.8 1286.6,1657.1 1287.6,1657.5 1288.6,1657.8 1289.6,1658.1 1290.6,1658.4 1291.6,1658.6 1292.6,1658.9 1293.6,1659.1 1294.6,1659.4 1295.6,1659.6 1296.6,1659.8 1297.6,1660 1298.6,1660.2 1299.6,1660.4 1300.6,1660.6 1301.6,1660.8 1302.6,1660.9 1303.6,1661.1 1304.6,1661.3 1305.6,1661.4 1306.6,1661.5 1307.6,1661.7 1308.6,1661.8 1309.6,1661.9 1310.6,1662 1311.6,1662.1 1312.6,1662.3 1313.6,1662.4 1314.6,1662.5 1315.6,1662.6 1316.6,1662.7 1317.6,1662.8 1318.6,1662.9 1319.6,1662.9 1320.6,1663 1321.6,1663.1 1322.6,1663.2 1323.6,1663.3 1324.6,1663.4 1325.6,1663.4 1326.6,1663.5 1327.6,1663.6 1328.6,1663.7 1329.6,1663.7 1330.6,1663.8 1331.6,1663.9 1332.6,1664 1333.6,1664 1334.6,1664.1 1335.6,1664.2 1336.6,1664.3 1337.6,1664.3 1338.6,1664.4 1339.6,1664.5 1340.6,1664.5 1341.6,1664.6 1342.6,1664.7 1343.6,1664.8 1344.6,1664.8 1345.6,1664.9 1346.6,1665 1347.6,1665 1348.6,1665.1 1349.6,1665.2 1350.6,1665.2 1351.6,1665.3 1352.6,1665.4 1353.6,1665.4 1354.6,1665.5 1355.6,1665.6 1356.6,1665.6 1357.6,1665.7 1358.6,1665.8 1359.6,1665.8 1360.6,1665.9 1361.6,1665.9 1362.6,1666 1363.6,1666.1 1364.6,1666.1 1365.6,1666.2 1366.6,1666.2 1367.6,1666.3 1368.6,1666.4 1369.6,1666.4 1370.6,1666.5 1371.6,1666.5 1372.6,1666.6 1373.6,1666.6 1374.6,1666.7 1375.6,1666.8 1376.6,1666.8 1377.6,1666.9 1378.6,1666.9 1379.6,1667 1380.6,1667 1381.6,1667.1 1382.6,1667.1 1383.6,1667.2 1384.6,1667.3 1385.6,1667.3 1386.6,1667.4 1387.6,1667.4 1388.6,1667.5 1389.6,1667.5 1390.6,1667.6 1391.6,1667.6 1392.6,1667.7 1393.6,1667.7 1394.6,1667.8 1395.6,1667.9 1396.6,1667.9 1397.6,1668 1398.6,1668 1399.6,1668.1 1400.6,1668.1 1401.6,1668.2 1402.6,1668.2 1403.6,1668.3 1404.6,1668.3 1405.6,1668.4 1406.6,1668.4 1407.6,1668.5 1408.6,1668.5 1409.6,1668.6 1410.6,1668.7 1411.6,1668.7 1412.6,1668.8 1413.6,1668.8 1414.6,1668.9 1415.6,1668.9 1416.6,1669 1417.6,1669 1418.6,1669.1 1419.6,1669.1 1420.6,1669.1 1421.6,1669.2 1422.6,1669.2 1423.6,1669.3 1424.6,1669.3 1425.6,1669.4 1426.6,1669.4 1427.6,1669.5 1428.6,1669.5 1429.6,1669.6 1430.6,1669.6 1431.6,1669.7 1432.6,1669.7 1433.6,1669.7 1434.6,1669.8 1435.6,1669.8 1436.6,1669.9 1437.6,1669.9 1438.6,1669.9 1439.6,1670 1440.6,1670 1441.6,1670.1 1442.6,1670.1 1443.6,1670.1 1444.6,1670.2 1445.6,1670.2 1446.6,1670.2 1447.6,1670.3 1448.6,1670.3 1449.6,1670.3 1450.6,1670.4 1451.6,1670.4 1452.6,1670.4 1453.6,1670.5 1454.6,1670.5 1455.6,1670.5 1456.6,1670.6 1457.6,1670.6 1458.6,1670.6 1459.6,1670.6 1460.6,1670.7 1461.6,1670.7 1462.6,1670.7 1463.6,1670.8 1464.6,1670.8 1465.6,1670.8 1466.6,1670.8 1467.6,1670.9 1468.6,1670.9 1469.6,1670.9 1470.6,1670.9 1471.6,1671 1472.6,1671 1473.6,1671 1474.6,1671 1475.6,1671.1 1476.6,1671.1 1477.6,1671.1 1478.6,1671.1 1479.6,1671.2 1480.6,1671.2 1481.6,1671.2 1482.6,1671.2 1483.6,1671.2 1484.6,1671.3 1485.6,1671.3 1486.6,1671.3 1487.6,1671.3 1488.6,1671.3 1489.6,1671.4 1490.6,1671.4 1491.6,1671.4 1492.5,1671.4 1494.3,1610 1498.5,1609 1520,1609.8 1548.6,1610.4 1548.6,1610.4 1550.1,1618.5 1551.6,1625.3 1553.1,1631.6 1554.6,1637.1 1556.1,1641.2 1557.6,1643.7 1559.1,1645.6 1560.6,1647.1 1562.1,1648.3 1563.6,1649.4 1565.1,1650.4 1566.6,1651.3 1568.1,1652.1 1569.6,1652.8 1571.1,1653.5 1572.6,1654.1 1574.1,1654.8 1575.6,1655.4 1577.1,1656.1 1578.6,1656.7 1580.1,1657.2 1581.6,1657.8 1583.1,1658.2 1584.6,1658.7 1586.1,1659.1 1587.6,1659.5 1589.1,1659.9 1590.6,1660.2 1592.1,1660.6 1593.6,1660.9 1595.1,1661.2 1596.6,1661.4 1598.1,1661.7 1599.6,1661.9 1601.1,1662.2 1602.6,1662.4 1604.1,1662.6 1605.6,1662.8 1607.1,1663 1608.6,1663.2 1610.1,1663.4 1611.6,1663.6 1613.1,1663.8 1614.6,1663.9 1616.1,1664.1 1617.6,1664.3 1619.1,1664.4 1620.6,1664.6 1622.1,1664.8 1623.6,1664.9 1625.1,1665.1 1626.6,1665.2 1628.1,1665.4 1629.6,1665.5 1631.1,1665.6 1632.6,1665.8 1634.1,1665.9 1635.6,1666.1 1637.1,1666.2 1638.6,1666.3 1640.1,1666.5 1641.6,1666.6 1643.1,1666.7 1644.6,1666.9 1646.1,1667 1647.6,1667.2 1649.1,1667.3 1650.6,1667.4 1652.1,1667.6 1653.6,1667.7 1655.1,1667.8 1656.6,1667.9 1658.1,1668.1 1659.6,1668.2 1661.1,1668.3 1662.6,1668.5 1664.1,1668.6 1665.6,1668.7 1667.1,1668.8 1668.6,1668.9 1670.1,1669 1671.6,1669.2 1673.1,1669.3 1674.6,1669.4 1676.1,1669.5 1677.6,1669.6 1679.1,1669.7 1680.6,1669.8 1682.1,1669.8 1683.6,1669.9 1685.1,1670 1686.6,1670.1 1688.1,1670.2 1689.6,1670.2 1691.1,1670.3 1692.6,1670.4 1694.1,1670.4 1695.6,1670.5 1697.1,1670.5 1698.6,1670.6 1700.1,1670.7 1701.6,1670.7 1703.1,1670.8 1704.6,1670.8 1706.1,1670.9 1707.6,1670.9 1709.1,1671 1710.6,1671 1712.1,1671 1713.6,1671.1 1715.1,1671.1 1716.6,1671.2 1718.1,1671.2 1719.6,1671.2 1721.1,1671.3 1722.6,1671.3 1724.1,1671.4 1725.6,1671.4 1727.1,1671.4 1728.6,1671.5 1730.1,1671.5 1731.6,1671.6 1733.1,1671.6 1734.6,1671.6 1736.1,1671.7 1737.6,1671.7 1739.1,1671.8 1740.6,1671.8 1742.1,1671.8 1743.6,1671.9 1745.1,1671.9 1746.6,1672 1748.1,1672 1749.6,1672.1 1751.1,1672.1 1752.6,1672.2 1754.1,1672.2 1755.6,1672.3 1757.1,1672.3 1758.6,1672.4 1760.1,1672.4 1761.6,1672.5 1763.1,1672.5 1764.6,1672.5 1766.1,1672.6 1767.6,1672.6 1769.1,1672.7 1770.6,1672.7 1772.1,1672.8 1773.6,1672.8 1775.1,1672.9 1776.6,1672.9 1778.1,1673 1779.6,1673 1781.1,1673.1 1782.6,1673.1 1784.1,1673.2 1785.6,1673.2 1787.1,1673.3 1788.6,1673.3 1790.1,1673.4 1791.6,1673.4 1793.1,1673.5 1794.6,1673.5 1796.1,1673.6 1797.6,1673.6 1799.1,1673.7 1800.6,1673.7 1802.1,1673.8 1803.6,1673.8 1805.1,1673.9 1806.6,1673.9 1808.1,1673.9 1809.6,1674 1811.1,1674 1812.6,1674.1 1814.1,1674.1 1815.6,1674.2 1817.1,1674.2 1818.6,1674.3 1820.1,1674.3 1821.6,1674.3 1823.1,1674.4 1824.6,1674.4 1826.1,1674.5 1827.6,1674.5 1829.1,1674.5 1830.6,1674.6 1832.1,1674.6 1833.6,1674.6 1835.1,1674.7 1836.6,1674.7 1838.1,1674.8 1839.6,1674.8 1841.1,1674.8 1842.6,1674.9 1844.1,1674.9 1845.6,1674.9 1847.1,1675 1848.6,1675 1850.1,1675 1851.6,1675 1853.1,1675.1 1854.6,1675.1 1856.1,1675.1 1857.6,1675.2 1859.1,1675.2 1860.6,1675.2 1862.1,1675.2 1863.6,1675.3 1865.1,1675.3 1866.6,1675.3 1868.1,1675.4 1869.6,1675.4 1871.1,1675.4 1872.6,1675.4 1874.1,1675.5 1875.6,1675.5 1877.1,1675.5 1878.6,1675.5 1880.1,1675.6 1881.6,1675.6 1883.1,1675.6 1884.6,1675.6 1886.1,1675.7 1887.6,1675.7 1889.1,1675.7 1890.6,1675.7 1892.1,1675.8 1893.6,1675.8 1895.1,1675.8 1896.6,1675.8 1898.1,1675.9 1899.6,1675.9 1901.1,1675.9 1902.6,1675.9 1904.1,1675.9 1905.6,1676 1907.1,1676 1908.6,1676 1910.1,1676 1911.6,1676 1913.1,1676.1 1914.6,1676.1 1916.1,1676.1 1917.6,1676.1 1919.1,1676.1 1920.6,1676.2 1922.1,1676.2 1923.6,1676.2 1925.1,1676.2 1926.6,1676.2 1928.1,1676.2 1929.6,1676.3 1931.1,1676.3 1932.6,1676.3 1934.1,1676.3 1935.6,1676.3 1937.1,1676.3 1938.6,1676.4 1940.1,1676.4 1941.6,1676.4 1943.1,1676.4 1944.4,1676.4" fill="none" stroke="#86AE35" stroke-width="4.6" stroke-linejoin="round"/>
</g>
<g id="chartD">
<line x1="265.5" y1="1787.2" x2="265.5" y2="2011.5" stroke="#868686" stroke-width="1.4"/>
<line x1="265.5" y1="2011.5" x2="1944.8" y2="2011.5" stroke="#9a9a9a" stroke-width="1.8"/>
<g font-size="22.5" fill="#111" stroke="#111" stroke-width="0.3"><text x="243.5" y="1787.2" text-anchor="end" dy="0.36em">14000</text><text x="243.5" y="1819.2" text-anchor="end" dy="0.36em">12000</text><text x="243.5" y="1851.2" text-anchor="end" dy="0.36em">10000</text><text x="243.5" y="1883.3" text-anchor="end" dy="0.36em">8000</text><text x="243.5" y="1915.3" text-anchor="end" dy="0.36em">6000</text><text x="243.5" y="1947.4" text-anchor="end" dy="0.36em">4000</text><text x="243.5" y="1979.5" text-anchor="end" dy="0.36em">2000</text><text x="243.5" y="2011.5" text-anchor="end" dy="0.36em">0</text></g>
<g font-size="23" fill="#111" stroke="#111" stroke-width="0.5"><text transform="translate(268,2026.2) rotate(-90) scale(1,1.030)" text-anchor="end" dy="0.36em">1</text><text transform="translate(298.6,2026.2) rotate(-90) scale(1,1.030)" text-anchor="end" dy="0.36em">147</text><text transform="translate(329.2,2026.2) rotate(-90) scale(1,1.030)" text-anchor="end" dy="0.36em">293</text><text transform="translate(359.9,2026.2) rotate(-90) scale(1,1.030)" text-anchor="end" dy="0.36em">439</text><text transform="translate(390.5,2026.2) rotate(-90) scale(1,1.030)" text-anchor="end" dy="0.36em">585</text><text transform="translate(421.1,2026.2) rotate(-90) scale(1,1.030)" text-anchor="end" dy="0.36em">731</text><text transform="translate(451.7,2026.2) rotate(-90) scale(1,1.030)" text-anchor="end" dy="0.36em">877</text><text transform="translate(482.3,2026.2) rotate(-90) scale(1,1.030)" text-anchor="end" dy="0.36em">1023</text><text transform="translate(513,2026.2) rotate(-90) scale(1,1.030)" text-anchor="end" dy="0.36em">1169</text><text transform="translate(543.6,2026.2) rotate(-90) scale(1,1.030)" text-anchor="end" dy="0.36em">1315</text><text transform="translate(574.2,2026.2) rotate(-90) scale(1,1.030)" text-anchor="end" dy="0.36em">1461</text><text transform="translate(604.8,2026.2) rotate(-90) scale(1,1.030)" text-anchor="end" dy="0.36em">1607</text><text transform="translate(635.4,2026.2) rotate(-90) scale(1,1.030)" text-anchor="end" dy="0.36em">1753</text><text transform="translate(666.1,2026.2) rotate(-90) scale(1,1.030)" text-anchor="end" dy="0.36em">1899</text><text transform="translate(696.7,2026.2) rotate(-90) scale(1,1.030)" text-anchor="end" dy="0.36em">2045</text><text transform="translate(727.3,2026.2) rotate(-90) scale(1,1.030)" text-anchor="end" dy="0.36em">2191</text><text transform="translate(757.9,2026.2) rotate(-90) scale(1,1.030)" text-anchor="end" dy="0.36em">2337</text><text transform="translate(788.5,2026.2) rotate(-90) scale(1,1.030)" text-anchor="end" dy="0.36em">2483</text><text transform="translate(819.2,2026.2) rotate(-90) scale(1,1.030)" text-anchor="end" dy="0.36em">2629</text><text transform="translate(849.8,2026.2) rotate(-90) scale(1,1.030)" text-anchor="end" dy="0.36em">2775</text><text transform="translate(880.4,2026.2) rotate(-90) scale(1,1.030)" text-anchor="end" dy="0.36em">2921</text><text transform="translate(911,2026.2) rotate(-90) scale(1,1.030)" text-anchor="end" dy="0.36em">3067</text><text transform="translate(941.6,2026.2) rotate(-90) scale(1,1.030)" text-anchor="end" dy="0.36em">3213</text><text transform="translate(972.3,2026.2) rotate(-90) scale(1,1.030)" text-anchor="end" dy="0.36em">3359</text><text transform="translate(1002.9,2026.2) rotate(-90) scale(1,1.030)" text-anchor="end" dy="0.36em">3505</text><text transform="translate(1033.5,2026.2) rotate(-90) scale(1,1.030)" text-anchor="end" dy="0.36em">3651</text><text transform="translate(1064.1,2026.2) rotate(-90) scale(1,1.030)" text-anchor="end" dy="0.36em">3797</text><text transform="translate(1094.7,2026.2) rotate(-90) scale(1,1.030)" text-anchor="end" dy="0.36em">3943</text><text transform="translate(1125.4,2026.2) rotate(-90) scale(1,1.030)" text-anchor="end" dy="0.36em">4089</text><text transform="translate(1156,2026.2) rotate(-90) scale(1,1.030)" text-anchor="end" dy="0.36em">4235</text><text transform="translate(1186.6,2026.2) rotate(-90) scale(1,1.030)" text-anchor="end" dy="0.36em">4381</text><text transform="translate(1217.2,2026.2) rotate(-90) scale(1,1.030)" text-anchor="end" dy="0.36em">4527</text><text transform="translate(1247.8,2026.2) rotate(-90) scale(1,1.030)" text-anchor="end" dy="0.36em">4673</text><text transform="translate(1278.5,2026.2) rotate(-90) scale(1,1.030)" text-anchor="end" dy="0.36em">4819</text><text transform="translate(1309.1,2026.2) rotate(-90) scale(1,1.030)" text-anchor="end" dy="0.36em">4965</text><text transform="translate(1339.7,2026.2) rotate(-90) scale(1,1.030)" text-anchor="end" dy="0.36em">5111</text><text transform="translate(1370.3,2026.2) rotate(-90) scale(1,1.030)" text-anchor="end" dy="0.36em">5257</text><text transform="translate(1400.9,2026.2) rotate(-90) scale(1,1.030)" text-anchor="end" dy="0.36em">5403</text><text transform="translate(1431.6,2026.2) rotate(-90) scale(1,1.030)" text-anchor="end" dy="0.36em">5549</text><text transform="translate(1462.2,2026.2) rotate(-90) scale(1,1.030)" text-anchor="end" dy="0.36em">5695</text><text transform="translate(1492.8,2026.2) rotate(-90) scale(1,1.030)" text-anchor="end" dy="0.36em">5841</text><text transform="translate(1523.4,2026.2) rotate(-90) scale(1,1.030)" text-anchor="end" dy="0.36em">5987</text><text transform="translate(1554,2026.2) rotate(-90) scale(1,1.030)" text-anchor="end" dy="0.36em">6133</text><text transform="translate(1584.7,2026.2) rotate(-90) scale(1,1.030)" text-anchor="end" dy="0.36em">6279</text><text transform="translate(1615.3,2026.2) rotate(-90) scale(1,1.030)" text-anchor="end" dy="0.36em">6425</text><text transform="translate(1645.9,2026.2) rotate(-90) scale(1,1.030)" text-anchor="end" dy="0.36em">6571</text><text transform="translate(1676.5,2026.2) rotate(-90) scale(1,1.030)" text-anchor="end" dy="0.36em">6717</text><text transform="translate(1707.1,2026.2) rotate(-90) scale(1,1.030)" text-anchor="end" dy="0.36em">6863</text><text transform="translate(1737.8,2026.2) rotate(-90) scale(1,1.030)" text-anchor="end" dy="0.36em">7009</text><text transform="translate(1768.4,2026.2) rotate(-90) scale(1,1.030)" text-anchor="end" dy="0.36em">7155</text><text transform="translate(1799,2026.2) rotate(-90) scale(1,1.030)" text-anchor="end" dy="0.36em">7301</text><text transform="translate(1829.6,2026.2) rotate(-90) scale(1,1.030)" text-anchor="end" dy="0.36em">7447</text><text transform="translate(1860.2,2026.2) rotate(-90) scale(1,1.030)" text-anchor="end" dy="0.36em">7593</text><text transform="translate(1890.9,2026.2) rotate(-90) scale(1,1.030)" text-anchor="end" dy="0.36em">7739</text><text transform="translate(1921.5,2026.2) rotate(-90) scale(1,1.030)" text-anchor="end" dy="0.36em">7885</text></g>
<polyline points="266,1838 266,1817.4 525,1817.4 527,1850 529,1930 532.1,1985 534,1998" fill="none" stroke="#3A6DB6" stroke-width="4.2" stroke-linejoin="round"/>
<polygon points="532,1984 536,1980 545,1972 552,1962 557,1950 561,1938 562.5,1935.5 564,1938 566.5,1994 568,1999 581.8,1999 582.4,1981.7 586.4,1980.4 590.4,1977.8 595.4,1971.7 600.4,1963.1 604.2,1956.7 605.4,1955.7 606.4,1957.2 609,1995 610.4,1999 624.6,1999 625.2,1981.4 629.2,1980.1 633.2,1977.4 638.2,1971.3 643.2,1962.5 647,1956 648.2,1955 649.2,1956.5 651.8,1995 653.2,1999 665.7,1999 666.3,1981.9 670.3,1980.6 674.3,1978 679.3,1972 684.3,1963.5 688.1,1957.2 689.3,1956.2 690.3,1957.7 692.9,1995 694.3,1999 707.2,1999 707.8,1982.1 711.8,1980.8 715.8,1978.3 720.8,1972.4 725.8,1963.9 729.6,1957.7 730.8,1956.7 731.8,1958.2 734.4,1995 735.8,1999 749,1999 749.6,1983 753.6,1981.8 757.6,1979.4 762.6,1973.8 767.6,1965.8 771.4,1960 772.6,1959 773.6,1960.5 776.2,1995 777.6,1999 791.5,1999 792.1,1983.5 796.1,1982.3 800.1,1980 805.1,1974.6 810.1,1966.8 813.9,1961.2 815.1,1960.2 816.1,1961.7 818.7,1995 820.1,1999 833.1,1999 833.7,1984.2 837.7,1983 841.7,1980.8 846.7,1975.6 851.7,1968.2 855.5,1962.9 856.7,1961.9 857.7,1963.4 860.3,1995 861.7,1999 874.9,1999 875.5,1984.4 879.5,1983.3 883.5,1981.2 888.5,1976.1 893.5,1968.8 897.3,1963.6 898.5,1962.6 899.5,1964.1 902.1,1995 903.5,1999 917,1999 917.6,1984.2 921.6,1983 925.6,1980.8 930.6,1975.6 935.6,1968.2 939.4,1962.9 940.6,1961.9 941.6,1963.4 944.2,1995 945.6,1999 958.8,1999 959.4,1984.4 963.4,1983.3 967.4,1981.2 972.4,1976.1 977.4,1968.8 981.2,1963.6 982.4,1962.6 983.4,1964.1 986,1995 987.4,1999 1000.8,1999 1001.4,1985.8 1005.4,1984.9 1009.4,1982.9 1014.4,1978.3 1019.4,1971.7 1023.2,1967.1 1024.4,1966.1 1025.4,1967.6 1028,1995 1029.4,1999 1043.1,1999 1043.7,1985.8 1047.7,1984.9 1051.7,1982.9 1056.7,1978.3 1061.7,1971.7 1065.5,1967.1 1066.7,1966.1 1067.7,1967.6 1070.3,1995 1071.7,1999 1089.5,1999 1090,1981.4 1098.6,1978.6 1111.4,1958.6 1125.7,1930 1140,1904.3 1147,1895.7 1151.4,1890 1153,1892 1151,1905 1148.6,1912.9 1140,1924.3 1125.7,1955.7 1111.4,1987 1098.6,2010.5 1068.7,2011.5 1066.9,1994.5 1065.7,1994.5 1060.7,2003.5 1055.7,2011.5 1026.4,2011.5 1024.6,1994.5 1023.4,1994.5 1018.4,2003.5 1013.4,2011.5 984.4,2011.5 982.6,1994.5 981.4,1994.5 976.4,2003.5 971.4,2011.5 942.6,2011.5 940.8,1994.5 939.6,1994.5 934.6,2003.5 929.6,2011.5 900.5,2011.5 898.7,1994.5 897.5,1994.5 892.5,2003.5 887.5,2011.5 858.7,2011.5 856.9,1994.5 855.7,1994.5 850.7,2003.5 845.7,2011.5 817.1,2011.5 815.3,1994.5 814.1,1994.5 809.1,2003.5 804.1,2011.5 774.6,2011.5 772.8,1994.5 771.6,1994.5 766.6,2003.5 761.6,2011.5 732.8,2011.5 731,1994.5 729.8,1994.5 724.8,2003.5 719.8,2011.5 691.1,2011.5 689.5,1985.5 688,1985.5 682.3,2000.5 675.3,2011.5 650,2011.5 648.4,1985.5 646.9,1985.5 641.2,2000.5 634.2,2011.5 607.2,2011.5 605.6,1985.5 604.1,1985.5 598.4,2000.5 591.4,2011.5 568,2011.5 564.5,2011.5 562.3,1990 561,1978 558,1984 552,1994 546,2004 536,2011 532,2008" fill="#4A80C2" stroke="#4A80C2" stroke-width="1.2" stroke-linejoin="round"/>
<polyline points="1152.4,1891 1157.1,2007" fill="none" stroke="#3A6DB6" stroke-width="4"/>
<polygon points="1155.5,1999 1168,1999 1168.6,1981.4 1182.9,1970 1197,1952.9 1211.4,1924.3 1225.7,1895.7 1230.5,1888 1230.5,1908 1222.9,1921.4 1205.7,1955.7 1188.6,1992.9 1177,2010.5 1155.5,2011.5" fill="#4A80C2" stroke="#4A80C2" stroke-width="1.2" stroke-linejoin="round"/>
<polyline points="1229,1904 1250,1817.4 1494.3,1817.4 1495.7,1819 1497,1884.3 1501,1920" fill="none" stroke="#3A6DB6" stroke-width="4.2" stroke-linejoin="round"/>
<polygon points="1499,1903 1502,1909 1508.6,1912.9 1517,1903 1525.7,1892.9 1525.7,1915.7 1517,1930 1510,1941 1501.4,1933 1499,1925" fill="#4A80C2" stroke="#4A80C2" stroke-width="1.5" stroke-linejoin="round"/>
<polyline points="1525,1905 1548.6,1817.6 1946,1817.6" fill="none" stroke="#3A6DB6" stroke-width="4.2" stroke-linejoin="round"/>
</g>
<g id="connectors" fill="none" stroke-linejoin="miter">
<polyline points="136.5,407.4 308.7,429.6 308.7,964 393,964 393,429.6 1221,407.4" stroke="#000" stroke-width="3"/>
<rect x="1457.4" y="429" width="47" height="535" fill="#fff" fill-opacity="0.45" stroke="none"/>
<polyline points="1255.8,406.9 1457.4,428.5 1457.4,964 1504.4,964 1504.4,429.5 1938,406.9" stroke="#222" stroke-width="1.6"/>
<line x1="1255.8" y1="406.9" x2="1457.4" y2="428.5" stroke="#000" stroke-width="2.4"/>
<line x1="1504.4" y1="429.5" x2="1938" y2="406.9" stroke="#000" stroke-width="2.4"/>
</g>
<g font-size="47" fill="#111" stroke="#111" stroke-width="0.4" font-family="'DejaVu Sans', 'Liberation Sans', sans-serif" font-weight="200">
<text x="324" y="2152" textLength="287.2" lengthAdjust="spacingAndGlyphs">Constant Input</text>
<text x="717.8" y="2152" textLength="355.6" lengthAdjust="spacingAndGlyphs">Varying Amplitude</text>
<text x="1131" y="2152.2" textLength="362.2" lengthAdjust="spacingAndGlyphs">Varying Frequency</text>
<text x="1656.7" y="2158" textLength="167.4" lengthAdjust="spacingAndGlyphs">No Input</text>
</g>
<g fill="rgb(150,0,10)" fill-opacity="0.3">
<rect x="264.5" y="452.4" width="426.5" height="1716.8"/>
<rect x="1098" y="452.4" width="426.8" height="1716.8"/>
</g>
<g font-size="69" font-weight="bold" fill="#03070c">
<text x="19.8" y="689">A</text>
<text x="21.3" y="1159.1" textLength="49.5" lengthAdjust="spacingAndGlyphs">B</text>
<text x="12.3" y="1620.4">C</text>
<text x="11.8" y="1955.9">D</text>
</g>
</svg></body></html>
